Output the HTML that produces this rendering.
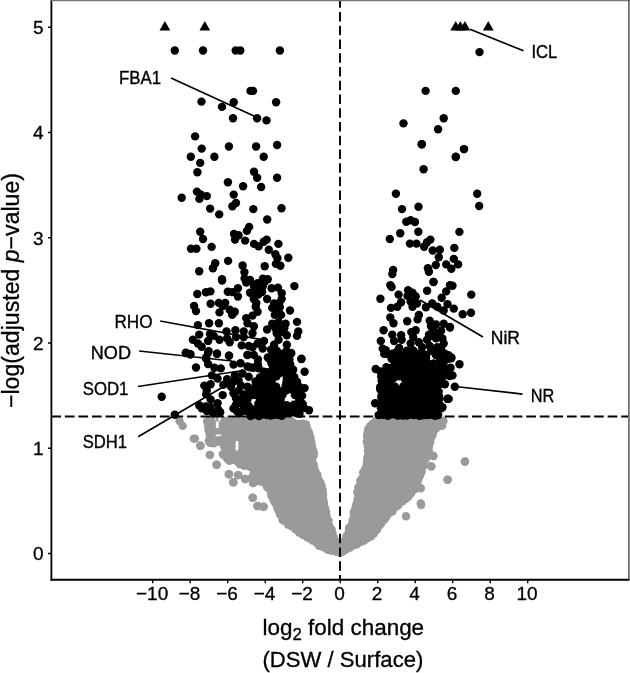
<!DOCTYPE html>
<html><head><meta charset="utf-8"><title>Volcano plot</title>
<style>html,body{margin:0;padding:0;background:#fff}body{width:630px;height:673px;overflow:hidden}</style></head>
<body>
<svg width="630" height="673" viewBox="0 0 630 673" style="display:block" font-family="'Liberation Sans', Arial, sans-serif" fill="#000">
<rect width="630" height="673" fill="#fff"/>
<path fill="#9a9a9a" fill-rule="evenodd" d="M208.0 421.5L292.0 421.5L294.0 424.5L306.0 424.5L306.6 427.0L310.6 438.3L312.2 447.0L313.8 453.4L312.0 460.0L315.4 471.7L318.5 479.6L322.5 490.0L324.0 503.0L325.0 508.0L328.4 520.5L332.5 533.0L337.8 545.0L340.1 552.5L332.0 550.8L323.5 547.2L312.5 540.6L303.0 535.0L295.5 529.2L288.0 524.5L282.5 520.0L277.0 507.0L273.5 500.0L270.0 490.0L264.0 482.5L257.0 481.0L253.5 478.0L254.0 469.0L244.0 463.0L238.0 462.0L230.0 459.0L227.0 454.0L224.0 442.5L215.0 442.0L210.0 438.0L208.5 430.0ZM215.8 415H218.6V428H215.8ZM215.6 434.6H221.2V436.2H215.6ZM235.6 441H238.4V450.5H235.6Z"/><path fill="#9a9a9a" d="M376.0 421.0L443.5 421.0L438.0 426.0L433.0 432.0L430.3 442.0L428.7 451.0L424.0 462.0L421.6 471.7L418.4 479.6L415.0 489.0L408.5 496.5L398.5 505.0L388.5 513.5L379.5 525.5L374.0 533.5L360.5 542.0L350.0 547.5L340.3 552.5L342.5 545.0L348.5 533.0L352.6 520.5L355.4 508.0L357.5 500.2L358.3 487.5L362.3 478.0L365.4 468.5L367.8 455.8L367.8 446.3L367.0 436.0L370.2 426.0Z"/>
<g fill="#9a9a9a"><circle cx="211.5" cy="421.0" r="4.2"/><circle cx="212.5" cy="441.0" r="4.2"/><circle cx="179.5" cy="421.1" r="4.2"/><circle cx="182.7" cy="425.9" r="4.2"/><circle cx="193.8" cy="438.6" r="4.2"/><circle cx="200.2" cy="445.7" r="4.2"/><circle cx="209.7" cy="454.9" r="4.2"/><circle cx="216.8" cy="464.8" r="4.2"/><circle cx="228.7" cy="474.3" r="4.2"/><circle cx="233.5" cy="482.2" r="4.2"/><circle cx="238.3" cy="475.1" r="4.2"/><circle cx="245.4" cy="479.0" r="4.2"/><circle cx="252.5" cy="476.7" r="4.2"/><circle cx="253.3" cy="483.0" r="4.2"/><circle cx="252.5" cy="497.8" r="4.2"/><circle cx="257.3" cy="506.0" r="4.2"/><circle cx="263.7" cy="506.8" r="4.2"/><circle cx="208.1" cy="421.1" r="4.2"/><circle cx="208.9" cy="427.5" r="4.2"/><circle cx="209.7" cy="433.8" r="4.2"/><circle cx="208.9" cy="441.0" r="4.2"/><circle cx="213.7" cy="443.3" r="4.2"/><circle cx="224.0" cy="442.5" r="4.2"/><circle cx="224.0" cy="455.2" r="4.2"/><circle cx="229.5" cy="460.8" r="4.2"/><circle cx="233.5" cy="457.6" r="4.2"/><circle cx="240.6" cy="464.0" r="4.2"/><circle cx="239.8" cy="456.0" r="4.2"/><circle cx="464.9" cy="461.4" r="4.2"/><circle cx="447.4" cy="479.7" r="4.2"/><circle cx="421.1" cy="505.1" r="4.2"/><circle cx="406.0" cy="516.3" r="4.2"/><circle cx="432.9" cy="455.7" r="4.2"/><circle cx="441.4" cy="425.7" r="4.2"/><circle cx="431.4" cy="466.6" r="4.2"/><circle cx="207.1" cy="421.4" r="4.2"/><circle cx="208.6" cy="428.6" r="4.2"/><circle cx="210.0" cy="435.7" r="4.2"/><circle cx="210.0" cy="442.9" r="4.2"/><circle cx="224.3" cy="445.7" r="4.2"/><circle cx="222.9" cy="454.3" r="4.2"/><circle cx="227.1" cy="458.6" r="4.2"/><circle cx="231.4" cy="457.1" r="4.2"/><circle cx="240.0" cy="464.3" r="4.2"/><circle cx="244.3" cy="465.7" r="4.2"/><circle cx="195.0" cy="438.6" r="4.2"/><circle cx="200.6" cy="445.7" r="4.2"/><circle cx="210.1" cy="454.9" r="4.2"/><circle cx="216.4" cy="464.8" r="4.2"/><circle cx="229.1" cy="474.3" r="4.2"/><circle cx="233.1" cy="482.2" r="4.2"/><circle cx="237.9" cy="475.1" r="4.2"/><circle cx="245.0" cy="479.0" r="4.2"/><circle cx="252.1" cy="477.5" r="4.2"/><circle cx="252.9" cy="483.0" r="4.2"/><circle cx="252.9" cy="497.8" r="4.2"/><circle cx="257.7" cy="506.0" r="4.2"/><circle cx="263.3" cy="506.8" r="4.2"/><circle cx="208.0" cy="421.5" r="4.2"/><circle cx="224.6" cy="420.8" r="4.2"/><circle cx="228.2" cy="421.6" r="4.2"/><circle cx="232.2" cy="421.2" r="4.2"/><circle cx="235.9" cy="421.6" r="4.2"/><circle cx="239.9" cy="421.8" r="4.2"/><circle cx="243.9" cy="421.4" r="4.2"/><circle cx="247.1" cy="421.7" r="4.2"/><circle cx="252.0" cy="421.0" r="4.2"/><circle cx="256.5" cy="422.0" r="4.2"/><circle cx="259.9" cy="420.9" r="4.2"/><circle cx="264.0" cy="420.8" r="4.2"/><circle cx="267.3" cy="421.4" r="4.2"/><circle cx="271.3" cy="421.4" r="4.2"/><circle cx="276.0" cy="420.7" r="4.2"/><circle cx="280.2" cy="420.7" r="4.2"/><circle cx="284.4" cy="422.0" r="4.2"/><circle cx="288.0" cy="420.7" r="4.2"/><circle cx="292.0" cy="421.5" r="4.2"/><circle cx="294.0" cy="424.5" r="4.2"/><circle cx="298.0" cy="424.3" r="4.2"/><circle cx="302.8" cy="423.8" r="4.2"/><circle cx="306.0" cy="424.5" r="4.2"/><circle cx="306.6" cy="427.0" r="4.2"/><circle cx="308.6" cy="431.7" r="4.2"/><circle cx="309.7" cy="435.1" r="4.2"/><circle cx="310.6" cy="438.3" r="4.2"/><circle cx="310.8" cy="443.5" r="4.2"/><circle cx="312.2" cy="447.0" r="4.2"/><circle cx="313.0" cy="451.0" r="4.2"/><circle cx="313.8" cy="453.4" r="4.2"/><circle cx="313.6" cy="456.1" r="4.2"/><circle cx="312.0" cy="460.0" r="4.2"/><circle cx="313.7" cy="464.7" r="4.2"/><circle cx="313.5" cy="467.5" r="4.2"/><circle cx="315.4" cy="471.7" r="4.2"/><circle cx="317.4" cy="475.0" r="4.2"/><circle cx="318.5" cy="479.6" r="4.2"/><circle cx="320.5" cy="482.7" r="4.2"/><circle cx="321.7" cy="485.9" r="4.2"/><circle cx="322.5" cy="490.0" r="4.2"/><circle cx="323.0" cy="495.1" r="4.2"/><circle cx="323.0" cy="498.2" r="4.2"/><circle cx="324.0" cy="503.0" r="4.2"/><circle cx="325.0" cy="508.0" r="4.2"/><circle cx="326.1" cy="511.8" r="4.2"/><circle cx="326.4" cy="515.8" r="4.2"/><circle cx="328.4" cy="520.5" r="4.2"/><circle cx="329.2" cy="525.5" r="4.2"/><circle cx="331.5" cy="529.5" r="4.2"/><circle cx="332.5" cy="533.0" r="4.2"/><circle cx="333.7" cy="537.5" r="4.2"/><circle cx="335.3" cy="541.1" r="4.2"/><circle cx="337.8" cy="545.0" r="4.2"/><circle cx="339.2" cy="548.5" r="4.2"/><circle cx="340.1" cy="552.5" r="4.2"/><circle cx="336.7" cy="551.7" r="4.2"/><circle cx="332.0" cy="550.8" r="4.2"/><circle cx="327.9" cy="549.7" r="4.2"/><circle cx="323.5" cy="547.2" r="4.2"/><circle cx="319.1" cy="545.9" r="4.2"/><circle cx="316.4" cy="542.6" r="4.2"/><circle cx="312.5" cy="540.6" r="4.2"/><circle cx="309.9" cy="538.3" r="4.2"/><circle cx="307.0" cy="537.0" r="4.2"/><circle cx="303.0" cy="535.0" r="4.2"/><circle cx="299.0" cy="532.6" r="4.2"/><circle cx="295.5" cy="529.2" r="4.2"/><circle cx="291.6" cy="526.3" r="4.2"/><circle cx="288.0" cy="524.5" r="4.2"/><circle cx="285.7" cy="521.4" r="4.2"/><circle cx="282.5" cy="520.0" r="4.2"/><circle cx="281.7" cy="516.3" r="4.2"/><circle cx="280.0" cy="514.4" r="4.2"/><circle cx="278.5" cy="510.5" r="4.2"/><circle cx="277.0" cy="507.0" r="4.2"/><circle cx="274.9" cy="502.6" r="4.2"/><circle cx="273.5" cy="500.0" r="4.2"/><circle cx="271.5" cy="496.0" r="4.2"/><circle cx="271.4" cy="493.2" r="4.2"/><circle cx="270.0" cy="490.0" r="4.2"/><circle cx="267.0" cy="487.0" r="4.2"/><circle cx="264.0" cy="482.5" r="4.2"/><circle cx="259.8" cy="481.3" r="4.2"/><circle cx="257.0" cy="481.0" r="4.2"/><circle cx="253.5" cy="478.0" r="4.2"/><circle cx="254.0" cy="472.6" r="4.2"/><circle cx="254.0" cy="469.0" r="4.2"/><circle cx="249.8" cy="466.7" r="4.2"/><circle cx="246.6" cy="464.7" r="4.2"/><circle cx="244.0" cy="463.0" r="4.2"/><circle cx="240.5" cy="462.7" r="4.2"/><circle cx="238.0" cy="462.0" r="4.2"/><circle cx="234.2" cy="460.0" r="4.2"/><circle cx="230.0" cy="459.0" r="4.2"/><circle cx="227.0" cy="454.0" r="4.2"/><circle cx="226.2" cy="450.1" r="4.2"/><circle cx="224.3" cy="447.1" r="4.2"/><circle cx="224.0" cy="442.5" r="4.2"/><circle cx="219.0" cy="441.6" r="4.2"/><circle cx="215.0" cy="442.0" r="4.2"/><circle cx="211.8" cy="440.2" r="4.2"/><circle cx="210.0" cy="438.0" r="4.2"/><circle cx="209.9" cy="434.5" r="4.2"/><circle cx="208.5" cy="430.0" r="4.2"/><circle cx="208.1" cy="425.3" r="4.2"/><circle cx="376.0" cy="421.0" r="4.2"/><circle cx="379.1" cy="421.3" r="4.2"/><circle cx="384.1" cy="420.7" r="4.2"/><circle cx="388.2" cy="420.9" r="4.2"/><circle cx="392.7" cy="421.4" r="4.2"/><circle cx="395.4" cy="421.7" r="4.2"/><circle cx="399.0" cy="421.1" r="4.2"/><circle cx="403.6" cy="420.5" r="4.2"/><circle cx="407.0" cy="421.5" r="4.2"/><circle cx="410.9" cy="421.1" r="4.2"/><circle cx="416.5" cy="420.4" r="4.2"/><circle cx="419.1" cy="421.2" r="4.2"/><circle cx="423.7" cy="421.3" r="4.2"/><circle cx="428.2" cy="420.4" r="4.2"/><circle cx="431.2" cy="420.6" r="4.2"/><circle cx="434.7" cy="421.7" r="4.2"/><circle cx="440.0" cy="421.4" r="4.2"/><circle cx="443.5" cy="421.0" r="4.2"/><circle cx="439.9" cy="424.1" r="4.2"/><circle cx="438.0" cy="426.0" r="4.2"/><circle cx="435.9" cy="428.9" r="4.2"/><circle cx="433.0" cy="432.0" r="4.2"/><circle cx="432.5" cy="435.2" r="4.2"/><circle cx="430.7" cy="438.0" r="4.2"/><circle cx="430.3" cy="442.0" r="4.2"/><circle cx="429.0" cy="445.7" r="4.2"/><circle cx="428.7" cy="451.0" r="4.2"/><circle cx="426.8" cy="455.1" r="4.2"/><circle cx="425.9" cy="459.0" r="4.2"/><circle cx="424.0" cy="462.0" r="4.2"/><circle cx="423.2" cy="466.4" r="4.2"/><circle cx="421.6" cy="471.7" r="4.2"/><circle cx="420.1" cy="475.5" r="4.2"/><circle cx="418.4" cy="479.6" r="4.2"/><circle cx="417.2" cy="484.3" r="4.2"/><circle cx="415.0" cy="489.0" r="4.2"/><circle cx="411.3" cy="493.0" r="4.2"/><circle cx="408.5" cy="496.5" r="4.2"/><circle cx="406.0" cy="498.8" r="4.2"/><circle cx="402.5" cy="501.3" r="4.2"/><circle cx="398.5" cy="505.0" r="4.2"/><circle cx="394.7" cy="507.4" r="4.2"/><circle cx="392.3" cy="511.5" r="4.2"/><circle cx="388.5" cy="513.5" r="4.2"/><circle cx="386.7" cy="516.2" r="4.2"/><circle cx="384.7" cy="519.2" r="4.2"/><circle cx="381.3" cy="523.2" r="4.2"/><circle cx="379.5" cy="525.5" r="4.2"/><circle cx="377.0" cy="529.8" r="4.2"/><circle cx="374.0" cy="533.5" r="4.2"/><circle cx="370.9" cy="536.5" r="4.2"/><circle cx="367.2" cy="538.4" r="4.2"/><circle cx="364.2" cy="540.5" r="4.2"/><circle cx="360.5" cy="542.0" r="4.2"/><circle cx="356.9" cy="544.2" r="4.2"/><circle cx="353.6" cy="545.3" r="4.2"/><circle cx="350.0" cy="547.5" r="4.2"/><circle cx="346.2" cy="549.4" r="4.2"/><circle cx="342.8" cy="551.6" r="4.2"/><circle cx="340.3" cy="552.5" r="4.2"/><circle cx="340.8" cy="547.9" r="4.2"/><circle cx="342.5" cy="545.0" r="4.2"/><circle cx="343.8" cy="541.8" r="4.2"/><circle cx="346.2" cy="536.4" r="4.2"/><circle cx="348.5" cy="533.0" r="4.2"/><circle cx="349.0" cy="528.0" r="4.2"/><circle cx="351.6" cy="524.9" r="4.2"/><circle cx="352.6" cy="520.5" r="4.2"/><circle cx="353.9" cy="516.8" r="4.2"/><circle cx="353.7" cy="512.3" r="4.2"/><circle cx="355.4" cy="508.0" r="4.2"/><circle cx="356.2" cy="504.7" r="4.2"/><circle cx="357.5" cy="500.2" r="4.2"/><circle cx="358.3" cy="496.7" r="4.2"/><circle cx="357.3" cy="492.4" r="4.2"/><circle cx="358.3" cy="487.5" r="4.2"/><circle cx="360.4" cy="485.1" r="4.2"/><circle cx="360.3" cy="480.6" r="4.2"/><circle cx="362.3" cy="478.0" r="4.2"/><circle cx="363.2" cy="472.4" r="4.2"/><circle cx="365.4" cy="468.5" r="4.2"/><circle cx="366.8" cy="464.8" r="4.2"/><circle cx="367.2" cy="460.6" r="4.2"/><circle cx="367.8" cy="455.8" r="4.2"/><circle cx="368.0" cy="450.7" r="4.2"/><circle cx="367.8" cy="446.3" r="4.2"/><circle cx="366.8" cy="442.1" r="4.2"/><circle cx="367.7" cy="438.9" r="4.2"/><circle cx="367.0" cy="436.0" r="4.2"/><circle cx="367.7" cy="432.5" r="4.2"/><circle cx="368.3" cy="428.9" r="4.2"/><circle cx="370.2" cy="426.0" r="4.2"/><circle cx="372.7" cy="423.9" r="4.2"/><circle cx="224.2" cy="421.9" r="4.2"/><circle cx="241.5" cy="422.5" r="4.2"/><circle cx="247.6" cy="422.1" r="4.2"/><circle cx="253.9" cy="422.2" r="4.2"/><circle cx="257.0" cy="422.4" r="4.2"/><circle cx="266.6" cy="421.8" r="4.2"/><circle cx="269.9" cy="422.1" r="4.2"/><circle cx="274.4" cy="422.1" r="4.2"/><circle cx="211.3" cy="424.1" r="4.2"/><circle cx="223.7" cy="424.6" r="4.2"/><circle cx="228.8" cy="425.4" r="4.2"/><circle cx="231.6" cy="424.7" r="4.2"/><circle cx="233.8" cy="425.1" r="4.2"/><circle cx="236.9" cy="424.2" r="4.2"/><circle cx="240.8" cy="423.9" r="4.2"/><circle cx="244.1" cy="425.4" r="4.2"/><circle cx="248.0" cy="424.8" r="4.2"/><circle cx="251.2" cy="424.7" r="4.2"/><circle cx="253.5" cy="425.0" r="4.2"/><circle cx="257.3" cy="425.3" r="4.2"/><circle cx="261.6" cy="424.7" r="4.2"/><circle cx="264.2" cy="425.3" r="4.2"/><circle cx="267.2" cy="424.3" r="4.2"/><circle cx="271.1" cy="425.6" r="4.2"/><circle cx="274.5" cy="425.2" r="4.2"/><circle cx="278.0" cy="425.2" r="4.2"/><circle cx="280.9" cy="424.7" r="4.2"/><circle cx="283.5" cy="425.1" r="4.2"/><circle cx="286.4" cy="424.6" r="4.2"/><circle cx="291.1" cy="425.2" r="4.2"/><circle cx="296.9" cy="424.7" r="4.2"/><circle cx="300.6" cy="424.6" r="4.2"/><circle cx="304.1" cy="425.7" r="4.2"/><circle cx="211.1" cy="428.6" r="4.2"/><circle cx="223.5" cy="427.9" r="4.2"/><circle cx="227.6" cy="428.5" r="4.2"/><circle cx="230.8" cy="427.6" r="4.2"/><circle cx="233.8" cy="428.6" r="4.2"/><circle cx="238.6" cy="428.2" r="4.2"/><circle cx="240.4" cy="428.7" r="4.2"/><circle cx="244.1" cy="427.5" r="4.2"/><circle cx="246.9" cy="428.7" r="4.2"/><circle cx="251.5" cy="428.4" r="4.2"/><circle cx="254.1" cy="428.2" r="4.2"/><circle cx="257.0" cy="429.0" r="4.2"/><circle cx="260.5" cy="428.4" r="4.2"/><circle cx="264.7" cy="428.7" r="4.2"/><circle cx="267.3" cy="427.7" r="4.2"/><circle cx="270.8" cy="427.4" r="4.2"/><circle cx="274.7" cy="427.8" r="4.2"/><circle cx="278.0" cy="427.6" r="4.2"/><circle cx="280.4" cy="427.6" r="4.2"/><circle cx="283.8" cy="427.5" r="4.2"/><circle cx="286.2" cy="428.5" r="4.2"/><circle cx="290.1" cy="427.6" r="4.2"/><circle cx="293.4" cy="428.1" r="4.2"/><circle cx="297.0" cy="428.4" r="4.2"/><circle cx="300.7" cy="427.8" r="4.2"/><circle cx="304.6" cy="428.8" r="4.2"/><circle cx="306.1" cy="428.8" r="4.2"/><circle cx="211.6" cy="432.2" r="4.2"/><circle cx="227.9" cy="430.9" r="4.2"/><circle cx="230.6" cy="430.7" r="4.2"/><circle cx="234.4" cy="430.5" r="4.2"/><circle cx="237.6" cy="430.7" r="4.2"/><circle cx="241.0" cy="431.4" r="4.2"/><circle cx="244.4" cy="432.1" r="4.2"/><circle cx="246.6" cy="432.1" r="4.2"/><circle cx="250.8" cy="431.5" r="4.2"/><circle cx="254.5" cy="432.1" r="4.2"/><circle cx="257.2" cy="431.2" r="4.2"/><circle cx="261.7" cy="430.6" r="4.2"/><circle cx="264.4" cy="431.7" r="4.2"/><circle cx="266.5" cy="431.6" r="4.2"/><circle cx="271.1" cy="432.3" r="4.2"/><circle cx="273.7" cy="432.4" r="4.2"/><circle cx="277.3" cy="431.4" r="4.2"/><circle cx="281.4" cy="430.5" r="4.2"/><circle cx="284.3" cy="431.7" r="4.2"/><circle cx="286.9" cy="432.1" r="4.2"/><circle cx="290.2" cy="431.3" r="4.2"/><circle cx="293.9" cy="431.9" r="4.2"/><circle cx="296.5" cy="431.3" r="4.2"/><circle cx="300.2" cy="431.5" r="4.2"/><circle cx="304.4" cy="431.0" r="4.2"/><circle cx="307.7" cy="431.2" r="4.2"/><circle cx="228.1" cy="434.6" r="4.2"/><circle cx="231.6" cy="433.9" r="4.2"/><circle cx="233.8" cy="433.8" r="4.2"/><circle cx="238.2" cy="435.5" r="4.2"/><circle cx="241.3" cy="434.4" r="4.2"/><circle cx="244.9" cy="435.3" r="4.2"/><circle cx="247.7" cy="434.2" r="4.2"/><circle cx="250.5" cy="434.5" r="4.2"/><circle cx="253.8" cy="434.6" r="4.2"/><circle cx="257.8" cy="435.6" r="4.2"/><circle cx="259.9" cy="434.8" r="4.2"/><circle cx="263.2" cy="433.9" r="4.2"/><circle cx="268.0" cy="434.9" r="4.2"/><circle cx="271.5" cy="434.6" r="4.2"/><circle cx="273.0" cy="434.5" r="4.2"/><circle cx="277.5" cy="435.6" r="4.2"/><circle cx="281.6" cy="434.7" r="4.2"/><circle cx="283.7" cy="433.9" r="4.2"/><circle cx="287.5" cy="434.1" r="4.2"/><circle cx="289.8" cy="433.7" r="4.2"/><circle cx="292.8" cy="435.1" r="4.2"/><circle cx="296.3" cy="435.6" r="4.2"/><circle cx="299.6" cy="435.4" r="4.2"/><circle cx="303.0" cy="433.7" r="4.2"/><circle cx="307.4" cy="434.2" r="4.2"/><circle cx="227.5" cy="438.3" r="4.2"/><circle cx="231.4" cy="437.8" r="4.2"/><circle cx="241.1" cy="437.6" r="4.2"/><circle cx="243.4" cy="438.9" r="4.2"/><circle cx="248.0" cy="438.7" r="4.2"/><circle cx="250.6" cy="438.2" r="4.2"/><circle cx="255.2" cy="438.7" r="4.2"/><circle cx="257.7" cy="437.6" r="4.2"/><circle cx="260.7" cy="438.8" r="4.2"/><circle cx="263.9" cy="438.4" r="4.2"/><circle cx="267.6" cy="438.8" r="4.2"/><circle cx="271.3" cy="437.6" r="4.2"/><circle cx="273.0" cy="437.5" r="4.2"/><circle cx="277.1" cy="438.2" r="4.2"/><circle cx="281.2" cy="438.8" r="4.2"/><circle cx="283.0" cy="438.7" r="4.2"/><circle cx="287.8" cy="438.7" r="4.2"/><circle cx="290.6" cy="437.5" r="4.2"/><circle cx="294.5" cy="438.6" r="4.2"/><circle cx="297.5" cy="438.8" r="4.2"/><circle cx="300.1" cy="437.2" r="4.2"/><circle cx="303.8" cy="438.6" r="4.2"/><circle cx="306.4" cy="438.5" r="4.2"/><circle cx="214.3" cy="441.4" r="4.2"/><circle cx="217.7" cy="441.3" r="4.2"/><circle cx="220.5" cy="440.4" r="4.2"/><circle cx="225.5" cy="441.0" r="4.2"/><circle cx="227.0" cy="441.6" r="4.2"/><circle cx="231.7" cy="440.6" r="4.2"/><circle cx="245.0" cy="441.3" r="4.2"/><circle cx="247.7" cy="440.8" r="4.2"/><circle cx="251.5" cy="441.2" r="4.2"/><circle cx="255.1" cy="441.8" r="4.2"/><circle cx="258.1" cy="442.2" r="4.2"/><circle cx="260.3" cy="440.4" r="4.2"/><circle cx="263.5" cy="440.7" r="4.2"/><circle cx="266.6" cy="440.4" r="4.2"/><circle cx="270.8" cy="442.0" r="4.2"/><circle cx="273.9" cy="442.2" r="4.2"/><circle cx="278.1" cy="440.4" r="4.2"/><circle cx="280.8" cy="441.1" r="4.2"/><circle cx="283.1" cy="442.2" r="4.2"/><circle cx="286.7" cy="441.4" r="4.2"/><circle cx="290.8" cy="442.2" r="4.2"/><circle cx="294.1" cy="441.1" r="4.2"/><circle cx="297.0" cy="440.6" r="4.2"/><circle cx="301.3" cy="442.3" r="4.2"/><circle cx="303.1" cy="440.4" r="4.2"/><circle cx="306.5" cy="441.0" r="4.2"/><circle cx="311.1" cy="442.1" r="4.2"/><circle cx="228.5" cy="445.4" r="4.2"/><circle cx="230.4" cy="444.5" r="4.2"/><circle cx="244.9" cy="444.6" r="4.2"/><circle cx="247.9" cy="443.9" r="4.2"/><circle cx="250.3" cy="443.7" r="4.2"/><circle cx="254.6" cy="444.7" r="4.2"/><circle cx="256.8" cy="445.3" r="4.2"/><circle cx="260.3" cy="444.4" r="4.2"/><circle cx="263.4" cy="444.1" r="4.2"/><circle cx="268.1" cy="444.3" r="4.2"/><circle cx="270.0" cy="444.6" r="4.2"/><circle cx="273.6" cy="445.4" r="4.2"/><circle cx="276.5" cy="445.6" r="4.2"/><circle cx="279.7" cy="445.4" r="4.2"/><circle cx="284.2" cy="444.0" r="4.2"/><circle cx="287.2" cy="444.2" r="4.2"/><circle cx="290.0" cy="444.0" r="4.2"/><circle cx="293.5" cy="445.6" r="4.2"/><circle cx="298.1" cy="445.5" r="4.2"/><circle cx="299.6" cy="444.2" r="4.2"/><circle cx="304.5" cy="443.7" r="4.2"/><circle cx="307.5" cy="444.2" r="4.2"/><circle cx="311.3" cy="443.6" r="4.2"/><circle cx="228.2" cy="447.0" r="4.2"/><circle cx="245.0" cy="447.4" r="4.2"/><circle cx="247.0" cy="448.6" r="4.2"/><circle cx="250.6" cy="447.2" r="4.2"/><circle cx="253.9" cy="448.1" r="4.2"/><circle cx="256.5" cy="447.9" r="4.2"/><circle cx="260.7" cy="447.9" r="4.2"/><circle cx="263.3" cy="448.3" r="4.2"/><circle cx="268.0" cy="448.6" r="4.2"/><circle cx="270.3" cy="448.3" r="4.2"/><circle cx="273.8" cy="448.4" r="4.2"/><circle cx="276.4" cy="448.6" r="4.2"/><circle cx="281.5" cy="447.9" r="4.2"/><circle cx="283.9" cy="448.0" r="4.2"/><circle cx="287.3" cy="446.9" r="4.2"/><circle cx="291.4" cy="447.3" r="4.2"/><circle cx="293.2" cy="447.1" r="4.2"/><circle cx="296.6" cy="448.5" r="4.2"/><circle cx="299.5" cy="447.1" r="4.2"/><circle cx="304.1" cy="447.3" r="4.2"/><circle cx="306.0" cy="448.1" r="4.2"/><circle cx="310.5" cy="447.9" r="4.2"/><circle cx="227.7" cy="452.2" r="4.2"/><circle cx="231.7" cy="452.0" r="4.2"/><circle cx="241.9" cy="452.1" r="4.2"/><circle cx="243.8" cy="451.0" r="4.2"/><circle cx="247.9" cy="450.9" r="4.2"/><circle cx="251.0" cy="450.3" r="4.2"/><circle cx="254.1" cy="451.2" r="4.2"/><circle cx="256.5" cy="450.5" r="4.2"/><circle cx="261.7" cy="451.8" r="4.2"/><circle cx="265.0" cy="451.5" r="4.2"/><circle cx="268.0" cy="452.0" r="4.2"/><circle cx="271.5" cy="450.3" r="4.2"/><circle cx="274.3" cy="450.7" r="4.2"/><circle cx="277.7" cy="450.7" r="4.2"/><circle cx="280.7" cy="452.0" r="4.2"/><circle cx="284.1" cy="450.7" r="4.2"/><circle cx="287.2" cy="451.1" r="4.2"/><circle cx="291.4" cy="450.8" r="4.2"/><circle cx="293.4" cy="451.5" r="4.2"/><circle cx="296.3" cy="451.4" r="4.2"/><circle cx="301.3" cy="451.2" r="4.2"/><circle cx="303.2" cy="451.1" r="4.2"/><circle cx="307.1" cy="450.5" r="4.2"/><circle cx="309.5" cy="450.5" r="4.2"/><circle cx="313.2" cy="451.0" r="4.2"/><circle cx="230.4" cy="453.6" r="4.2"/><circle cx="240.9" cy="455.0" r="4.2"/><circle cx="243.5" cy="454.0" r="4.2"/><circle cx="248.5" cy="455.0" r="4.2"/><circle cx="250.2" cy="454.2" r="4.2"/><circle cx="253.9" cy="454.9" r="4.2"/><circle cx="257.7" cy="455.2" r="4.2"/><circle cx="261.4" cy="454.5" r="4.2"/><circle cx="264.6" cy="455.0" r="4.2"/><circle cx="267.9" cy="454.5" r="4.2"/><circle cx="271.3" cy="454.9" r="4.2"/><circle cx="274.8" cy="453.8" r="4.2"/><circle cx="278.0" cy="453.5" r="4.2"/><circle cx="281.1" cy="454.7" r="4.2"/><circle cx="283.9" cy="455.4" r="4.2"/><circle cx="287.3" cy="454.3" r="4.2"/><circle cx="291.1" cy="455.2" r="4.2"/><circle cx="294.0" cy="454.3" r="4.2"/><circle cx="297.0" cy="454.4" r="4.2"/><circle cx="300.8" cy="454.1" r="4.2"/><circle cx="303.5" cy="454.6" r="4.2"/><circle cx="306.8" cy="454.1" r="4.2"/><circle cx="310.9" cy="455.2" r="4.2"/><circle cx="231.5" cy="457.9" r="4.2"/><circle cx="233.6" cy="457.5" r="4.2"/><circle cx="237.5" cy="457.9" r="4.2"/><circle cx="241.1" cy="458.6" r="4.2"/><circle cx="245.2" cy="457.8" r="4.2"/><circle cx="247.5" cy="458.0" r="4.2"/><circle cx="251.9" cy="457.5" r="4.2"/><circle cx="254.3" cy="458.4" r="4.2"/><circle cx="256.8" cy="457.4" r="4.2"/><circle cx="261.8" cy="458.5" r="4.2"/><circle cx="264.1" cy="457.0" r="4.2"/><circle cx="268.2" cy="458.2" r="4.2"/><circle cx="271.3" cy="458.8" r="4.2"/><circle cx="274.8" cy="457.6" r="4.2"/><circle cx="276.6" cy="457.4" r="4.2"/><circle cx="280.6" cy="457.8" r="4.2"/><circle cx="283.3" cy="457.2" r="4.2"/><circle cx="287.5" cy="458.0" r="4.2"/><circle cx="290.2" cy="458.8" r="4.2"/><circle cx="294.1" cy="456.9" r="4.2"/><circle cx="296.9" cy="458.4" r="4.2"/><circle cx="300.0" cy="458.2" r="4.2"/><circle cx="302.7" cy="457.4" r="4.2"/><circle cx="307.7" cy="458.0" r="4.2"/><circle cx="310.6" cy="457.2" r="4.2"/><circle cx="237.6" cy="461.3" r="4.2"/><circle cx="240.5" cy="460.2" r="4.2"/><circle cx="245.2" cy="461.8" r="4.2"/><circle cx="247.2" cy="461.9" r="4.2"/><circle cx="251.5" cy="460.7" r="4.2"/><circle cx="254.4" cy="462.0" r="4.2"/><circle cx="257.5" cy="462.0" r="4.2"/><circle cx="260.3" cy="460.9" r="4.2"/><circle cx="264.5" cy="460.5" r="4.2"/><circle cx="267.0" cy="461.9" r="4.2"/><circle cx="270.7" cy="461.7" r="4.2"/><circle cx="273.5" cy="460.4" r="4.2"/><circle cx="277.0" cy="460.5" r="4.2"/><circle cx="281.5" cy="460.7" r="4.2"/><circle cx="284.0" cy="460.3" r="4.2"/><circle cx="287.3" cy="460.9" r="4.2"/><circle cx="290.3" cy="460.2" r="4.2"/><circle cx="293.0" cy="461.8" r="4.2"/><circle cx="296.8" cy="460.6" r="4.2"/><circle cx="299.8" cy="460.7" r="4.2"/><circle cx="303.2" cy="460.2" r="4.2"/><circle cx="307.3" cy="460.8" r="4.2"/><circle cx="309.6" cy="461.5" r="4.2"/><circle cx="246.8" cy="464.5" r="4.2"/><circle cx="250.6" cy="464.4" r="4.2"/><circle cx="253.8" cy="463.5" r="4.2"/><circle cx="257.1" cy="463.9" r="4.2"/><circle cx="260.1" cy="464.8" r="4.2"/><circle cx="263.7" cy="464.2" r="4.2"/><circle cx="268.2" cy="464.9" r="4.2"/><circle cx="271.5" cy="465.1" r="4.2"/><circle cx="273.3" cy="464.0" r="4.2"/><circle cx="276.4" cy="464.8" r="4.2"/><circle cx="280.9" cy="464.1" r="4.2"/><circle cx="283.7" cy="464.7" r="4.2"/><circle cx="287.6" cy="463.9" r="4.2"/><circle cx="291.2" cy="464.1" r="4.2"/><circle cx="294.1" cy="463.8" r="4.2"/><circle cx="296.3" cy="465.2" r="4.2"/><circle cx="300.9" cy="464.8" r="4.2"/><circle cx="302.8" cy="463.5" r="4.2"/><circle cx="306.3" cy="463.8" r="4.2"/><circle cx="309.9" cy="464.2" r="4.2"/><circle cx="312.7" cy="464.0" r="4.2"/><circle cx="251.8" cy="467.0" r="4.2"/><circle cx="254.7" cy="466.8" r="4.2"/><circle cx="257.9" cy="468.3" r="4.2"/><circle cx="260.3" cy="467.8" r="4.2"/><circle cx="265.0" cy="468.0" r="4.2"/><circle cx="267.5" cy="467.2" r="4.2"/><circle cx="269.8" cy="467.4" r="4.2"/><circle cx="273.8" cy="467.1" r="4.2"/><circle cx="276.9" cy="467.0" r="4.2"/><circle cx="281.0" cy="468.0" r="4.2"/><circle cx="283.4" cy="467.2" r="4.2"/><circle cx="287.2" cy="467.6" r="4.2"/><circle cx="291.4" cy="467.4" r="4.2"/><circle cx="293.4" cy="468.5" r="4.2"/><circle cx="296.4" cy="467.8" r="4.2"/><circle cx="300.1" cy="468.3" r="4.2"/><circle cx="303.8" cy="468.2" r="4.2"/><circle cx="306.3" cy="468.0" r="4.2"/><circle cx="310.5" cy="467.6" r="4.2"/><circle cx="314.1" cy="468.4" r="4.2"/><circle cx="258.2" cy="471.5" r="4.2"/><circle cx="260.5" cy="470.4" r="4.2"/><circle cx="264.8" cy="470.6" r="4.2"/><circle cx="267.1" cy="471.1" r="4.2"/><circle cx="270.4" cy="471.7" r="4.2"/><circle cx="273.5" cy="470.1" r="4.2"/><circle cx="277.4" cy="471.3" r="4.2"/><circle cx="281.2" cy="471.4" r="4.2"/><circle cx="284.7" cy="471.9" r="4.2"/><circle cx="287.2" cy="471.0" r="4.2"/><circle cx="289.8" cy="470.6" r="4.2"/><circle cx="294.0" cy="470.2" r="4.2"/><circle cx="297.5" cy="470.3" r="4.2"/><circle cx="300.3" cy="471.9" r="4.2"/><circle cx="302.9" cy="470.1" r="4.2"/><circle cx="306.9" cy="470.4" r="4.2"/><circle cx="310.7" cy="470.0" r="4.2"/><circle cx="314.3" cy="471.7" r="4.2"/><circle cx="253.9" cy="474.5" r="4.2"/><circle cx="257.3" cy="474.4" r="4.2"/><circle cx="260.9" cy="474.1" r="4.2"/><circle cx="263.3" cy="473.7" r="4.2"/><circle cx="268.2" cy="474.4" r="4.2"/><circle cx="269.9" cy="475.0" r="4.2"/><circle cx="273.5" cy="473.5" r="4.2"/><circle cx="277.4" cy="473.8" r="4.2"/><circle cx="280.6" cy="474.4" r="4.2"/><circle cx="283.4" cy="474.4" r="4.2"/><circle cx="286.4" cy="474.3" r="4.2"/><circle cx="290.7" cy="473.5" r="4.2"/><circle cx="293.6" cy="473.4" r="4.2"/><circle cx="297.0" cy="475.0" r="4.2"/><circle cx="300.5" cy="474.7" r="4.2"/><circle cx="304.2" cy="473.5" r="4.2"/><circle cx="308.0" cy="474.7" r="4.2"/><circle cx="309.5" cy="475.0" r="4.2"/><circle cx="313.4" cy="473.6" r="4.2"/><circle cx="256.7" cy="478.2" r="4.2"/><circle cx="260.2" cy="477.7" r="4.2"/><circle cx="263.7" cy="478.0" r="4.2"/><circle cx="267.2" cy="476.9" r="4.2"/><circle cx="271.5" cy="477.7" r="4.2"/><circle cx="274.4" cy="478.2" r="4.2"/><circle cx="278.2" cy="476.6" r="4.2"/><circle cx="280.3" cy="476.9" r="4.2"/><circle cx="283.9" cy="478.3" r="4.2"/><circle cx="287.8" cy="476.7" r="4.2"/><circle cx="289.9" cy="478.2" r="4.2"/><circle cx="294.2" cy="477.4" r="4.2"/><circle cx="297.1" cy="476.9" r="4.2"/><circle cx="301.1" cy="477.4" r="4.2"/><circle cx="304.4" cy="477.8" r="4.2"/><circle cx="306.2" cy="477.3" r="4.2"/><circle cx="309.7" cy="478.4" r="4.2"/><circle cx="313.8" cy="476.7" r="4.2"/><circle cx="316.2" cy="477.3" r="4.2"/><circle cx="260.8" cy="480.6" r="4.2"/><circle cx="263.6" cy="480.4" r="4.2"/><circle cx="267.1" cy="480.2" r="4.2"/><circle cx="269.7" cy="481.6" r="4.2"/><circle cx="273.9" cy="480.8" r="4.2"/><circle cx="277.4" cy="480.5" r="4.2"/><circle cx="279.9" cy="480.0" r="4.2"/><circle cx="283.5" cy="480.5" r="4.2"/><circle cx="287.7" cy="481.0" r="4.2"/><circle cx="291.4" cy="480.6" r="4.2"/><circle cx="294.6" cy="481.1" r="4.2"/><circle cx="296.3" cy="480.3" r="4.2"/><circle cx="300.6" cy="481.9" r="4.2"/><circle cx="303.4" cy="481.4" r="4.2"/><circle cx="306.9" cy="481.6" r="4.2"/><circle cx="309.4" cy="480.9" r="4.2"/><circle cx="314.4" cy="480.5" r="4.2"/><circle cx="316.4" cy="479.9" r="4.2"/><circle cx="267.9" cy="483.4" r="4.2"/><circle cx="271.3" cy="484.0" r="4.2"/><circle cx="274.1" cy="484.4" r="4.2"/><circle cx="277.4" cy="484.5" r="4.2"/><circle cx="280.8" cy="483.9" r="4.2"/><circle cx="284.4" cy="483.7" r="4.2"/><circle cx="287.6" cy="484.7" r="4.2"/><circle cx="291.1" cy="483.8" r="4.2"/><circle cx="294.3" cy="485.2" r="4.2"/><circle cx="297.0" cy="483.8" r="4.2"/><circle cx="300.4" cy="485.1" r="4.2"/><circle cx="303.0" cy="483.2" r="4.2"/><circle cx="307.0" cy="484.5" r="4.2"/><circle cx="310.8" cy="483.9" r="4.2"/><circle cx="314.6" cy="483.7" r="4.2"/><circle cx="317.4" cy="483.4" r="4.2"/><circle cx="319.3" cy="483.5" r="4.2"/><circle cx="268.1" cy="487.0" r="4.2"/><circle cx="271.2" cy="488.1" r="4.2"/><circle cx="273.6" cy="487.2" r="4.2"/><circle cx="277.3" cy="488.3" r="4.2"/><circle cx="279.9" cy="487.9" r="4.2"/><circle cx="284.1" cy="487.4" r="4.2"/><circle cx="287.4" cy="488.3" r="4.2"/><circle cx="289.9" cy="488.3" r="4.2"/><circle cx="293.5" cy="488.1" r="4.2"/><circle cx="297.8" cy="486.9" r="4.2"/><circle cx="301.1" cy="488.5" r="4.2"/><circle cx="303.3" cy="486.5" r="4.2"/><circle cx="306.2" cy="488.4" r="4.2"/><circle cx="309.3" cy="488.3" r="4.2"/><circle cx="312.9" cy="488.0" r="4.2"/><circle cx="316.1" cy="486.8" r="4.2"/><circle cx="320.6" cy="486.7" r="4.2"/><circle cx="271.1" cy="491.8" r="4.2"/><circle cx="274.7" cy="491.2" r="4.2"/><circle cx="277.1" cy="490.4" r="4.2"/><circle cx="280.4" cy="491.7" r="4.2"/><circle cx="283.7" cy="490.6" r="4.2"/><circle cx="287.0" cy="490.1" r="4.2"/><circle cx="291.5" cy="489.8" r="4.2"/><circle cx="294.0" cy="491.7" r="4.2"/><circle cx="296.6" cy="491.0" r="4.2"/><circle cx="300.2" cy="490.3" r="4.2"/><circle cx="303.1" cy="490.0" r="4.2"/><circle cx="307.7" cy="491.4" r="4.2"/><circle cx="311.1" cy="489.9" r="4.2"/><circle cx="314.0" cy="490.4" r="4.2"/><circle cx="317.2" cy="490.9" r="4.2"/><circle cx="319.8" cy="491.7" r="4.2"/><circle cx="322.5" cy="491.3" r="4.2"/><circle cx="273.9" cy="493.3" r="4.2"/><circle cx="277.1" cy="495.1" r="4.2"/><circle cx="281.0" cy="494.0" r="4.2"/><circle cx="283.9" cy="494.7" r="4.2"/><circle cx="287.7" cy="493.4" r="4.2"/><circle cx="290.9" cy="493.8" r="4.2"/><circle cx="293.8" cy="493.6" r="4.2"/><circle cx="296.8" cy="493.8" r="4.2"/><circle cx="300.2" cy="493.1" r="4.2"/><circle cx="303.1" cy="494.2" r="4.2"/><circle cx="306.1" cy="493.5" r="4.2"/><circle cx="310.7" cy="493.6" r="4.2"/><circle cx="313.2" cy="493.6" r="4.2"/><circle cx="317.6" cy="493.3" r="4.2"/><circle cx="320.5" cy="494.8" r="4.2"/><circle cx="322.9" cy="493.9" r="4.2"/><circle cx="273.2" cy="498.0" r="4.2"/><circle cx="276.5" cy="496.6" r="4.2"/><circle cx="281.1" cy="497.5" r="4.2"/><circle cx="283.0" cy="497.8" r="4.2"/><circle cx="287.6" cy="497.4" r="4.2"/><circle cx="289.6" cy="497.8" r="4.2"/><circle cx="293.6" cy="497.6" r="4.2"/><circle cx="298.1" cy="498.0" r="4.2"/><circle cx="301.1" cy="496.7" r="4.2"/><circle cx="303.4" cy="497.4" r="4.2"/><circle cx="306.0" cy="498.4" r="4.2"/><circle cx="309.8" cy="496.9" r="4.2"/><circle cx="313.2" cy="496.9" r="4.2"/><circle cx="317.6" cy="497.5" r="4.2"/><circle cx="320.2" cy="497.2" r="4.2"/><circle cx="322.6" cy="497.0" r="4.2"/><circle cx="274.8" cy="500.1" r="4.2"/><circle cx="276.5" cy="499.9" r="4.2"/><circle cx="281.2" cy="501.6" r="4.2"/><circle cx="283.7" cy="501.0" r="4.2"/><circle cx="286.7" cy="501.5" r="4.2"/><circle cx="290.9" cy="500.0" r="4.2"/><circle cx="292.9" cy="501.1" r="4.2"/><circle cx="296.2" cy="501.4" r="4.2"/><circle cx="300.0" cy="500.2" r="4.2"/><circle cx="303.9" cy="500.3" r="4.2"/><circle cx="307.1" cy="500.0" r="4.2"/><circle cx="311.1" cy="500.3" r="4.2"/><circle cx="314.3" cy="500.0" r="4.2"/><circle cx="317.5" cy="501.7" r="4.2"/><circle cx="320.0" cy="499.8" r="4.2"/><circle cx="323.3" cy="501.0" r="4.2"/><circle cx="276.4" cy="504.0" r="4.2"/><circle cx="279.8" cy="504.3" r="4.2"/><circle cx="283.2" cy="504.2" r="4.2"/><circle cx="286.9" cy="503.7" r="4.2"/><circle cx="290.8" cy="503.3" r="4.2"/><circle cx="293.1" cy="504.9" r="4.2"/><circle cx="296.8" cy="504.7" r="4.2"/><circle cx="301.1" cy="504.0" r="4.2"/><circle cx="303.0" cy="503.2" r="4.2"/><circle cx="307.8" cy="503.2" r="4.2"/><circle cx="310.3" cy="504.1" r="4.2"/><circle cx="312.8" cy="503.9" r="4.2"/><circle cx="316.2" cy="504.1" r="4.2"/><circle cx="320.2" cy="503.7" r="4.2"/><circle cx="322.9" cy="503.8" r="4.2"/><circle cx="281.6" cy="507.9" r="4.2"/><circle cx="283.9" cy="507.3" r="4.2"/><circle cx="287.8" cy="508.1" r="4.2"/><circle cx="291.0" cy="507.6" r="4.2"/><circle cx="293.2" cy="507.6" r="4.2"/><circle cx="297.8" cy="507.9" r="4.2"/><circle cx="299.6" cy="507.7" r="4.2"/><circle cx="303.4" cy="506.6" r="4.2"/><circle cx="307.9" cy="507.6" r="4.2"/><circle cx="310.8" cy="506.6" r="4.2"/><circle cx="314.3" cy="508.2" r="4.2"/><circle cx="317.7" cy="507.8" r="4.2"/><circle cx="320.9" cy="507.9" r="4.2"/><circle cx="323.7" cy="507.2" r="4.2"/><circle cx="279.8" cy="511.0" r="4.2"/><circle cx="283.0" cy="511.2" r="4.2"/><circle cx="286.6" cy="510.1" r="4.2"/><circle cx="291.4" cy="510.3" r="4.2"/><circle cx="293.2" cy="511.4" r="4.2"/><circle cx="297.3" cy="511.4" r="4.2"/><circle cx="300.2" cy="510.6" r="4.2"/><circle cx="304.6" cy="510.6" r="4.2"/><circle cx="308.0" cy="510.0" r="4.2"/><circle cx="311.0" cy="509.9" r="4.2"/><circle cx="313.7" cy="509.6" r="4.2"/><circle cx="316.3" cy="511.5" r="4.2"/><circle cx="320.1" cy="511.2" r="4.2"/><circle cx="323.0" cy="510.3" r="4.2"/><circle cx="281.0" cy="514.3" r="4.2"/><circle cx="283.5" cy="513.2" r="4.2"/><circle cx="287.4" cy="514.6" r="4.2"/><circle cx="291.1" cy="513.6" r="4.2"/><circle cx="293.1" cy="513.9" r="4.2"/><circle cx="297.9" cy="513.2" r="4.2"/><circle cx="300.9" cy="513.2" r="4.2"/><circle cx="303.3" cy="513.0" r="4.2"/><circle cx="306.6" cy="513.7" r="4.2"/><circle cx="311.2" cy="514.8" r="4.2"/><circle cx="313.0" cy="513.5" r="4.2"/><circle cx="317.8" cy="513.3" r="4.2"/><circle cx="319.8" cy="513.8" r="4.2"/><circle cx="322.7" cy="513.4" r="4.2"/><circle cx="284.2" cy="518.0" r="4.2"/><circle cx="286.5" cy="516.9" r="4.2"/><circle cx="289.6" cy="517.0" r="4.2"/><circle cx="293.8" cy="517.9" r="4.2"/><circle cx="297.4" cy="517.4" r="4.2"/><circle cx="300.2" cy="517.3" r="4.2"/><circle cx="303.2" cy="517.9" r="4.2"/><circle cx="307.6" cy="517.9" r="4.2"/><circle cx="309.6" cy="517.5" r="4.2"/><circle cx="314.1" cy="517.2" r="4.2"/><circle cx="317.7" cy="518.0" r="4.2"/><circle cx="320.7" cy="517.8" r="4.2"/><circle cx="323.8" cy="518.0" r="4.2"/><circle cx="326.1" cy="517.6" r="4.2"/><circle cx="284.9" cy="521.1" r="4.2"/><circle cx="288.1" cy="520.2" r="4.2"/><circle cx="291.5" cy="519.6" r="4.2"/><circle cx="293.8" cy="519.8" r="4.2"/><circle cx="297.0" cy="520.9" r="4.2"/><circle cx="300.8" cy="520.4" r="4.2"/><circle cx="303.4" cy="519.9" r="4.2"/><circle cx="306.8" cy="520.1" r="4.2"/><circle cx="309.7" cy="521.0" r="4.2"/><circle cx="313.6" cy="520.4" r="4.2"/><circle cx="316.3" cy="520.9" r="4.2"/><circle cx="319.6" cy="520.0" r="4.2"/><circle cx="323.6" cy="520.9" r="4.2"/><circle cx="327.7" cy="521.0" r="4.2"/><circle cx="287.1" cy="522.9" r="4.2"/><circle cx="291.3" cy="523.9" r="4.2"/><circle cx="292.9" cy="523.4" r="4.2"/><circle cx="297.3" cy="524.6" r="4.2"/><circle cx="300.4" cy="524.1" r="4.2"/><circle cx="303.1" cy="523.3" r="4.2"/><circle cx="307.8" cy="523.6" r="4.2"/><circle cx="309.5" cy="524.0" r="4.2"/><circle cx="312.9" cy="523.2" r="4.2"/><circle cx="316.8" cy="524.0" r="4.2"/><circle cx="320.5" cy="524.2" r="4.2"/><circle cx="323.4" cy="522.9" r="4.2"/><circle cx="327.2" cy="522.9" r="4.2"/><circle cx="293.6" cy="526.1" r="4.2"/><circle cx="297.6" cy="526.1" r="4.2"/><circle cx="301.1" cy="527.7" r="4.2"/><circle cx="303.6" cy="526.3" r="4.2"/><circle cx="307.3" cy="526.5" r="4.2"/><circle cx="310.2" cy="526.3" r="4.2"/><circle cx="314.6" cy="527.2" r="4.2"/><circle cx="316.6" cy="526.3" r="4.2"/><circle cx="320.7" cy="527.8" r="4.2"/><circle cx="324.2" cy="526.3" r="4.2"/><circle cx="326.5" cy="526.7" r="4.2"/><circle cx="298.0" cy="529.7" r="4.2"/><circle cx="300.5" cy="530.7" r="4.2"/><circle cx="303.8" cy="531.3" r="4.2"/><circle cx="306.8" cy="531.2" r="4.2"/><circle cx="310.7" cy="531.3" r="4.2"/><circle cx="312.8" cy="529.8" r="4.2"/><circle cx="316.5" cy="531.2" r="4.2"/><circle cx="319.2" cy="529.9" r="4.2"/><circle cx="323.9" cy="531.4" r="4.2"/><circle cx="326.2" cy="530.3" r="4.2"/><circle cx="330.5" cy="530.8" r="4.2"/><circle cx="303.4" cy="534.1" r="4.2"/><circle cx="306.3" cy="534.3" r="4.2"/><circle cx="309.8" cy="533.4" r="4.2"/><circle cx="313.6" cy="532.9" r="4.2"/><circle cx="316.4" cy="534.3" r="4.2"/><circle cx="319.8" cy="533.5" r="4.2"/><circle cx="324.0" cy="533.1" r="4.2"/><circle cx="326.2" cy="533.1" r="4.2"/><circle cx="329.9" cy="533.4" r="4.2"/><circle cx="307.9" cy="537.5" r="4.2"/><circle cx="311.0" cy="536.7" r="4.2"/><circle cx="314.4" cy="536.4" r="4.2"/><circle cx="316.4" cy="537.2" r="4.2"/><circle cx="321.0" cy="536.2" r="4.2"/><circle cx="322.9" cy="536.1" r="4.2"/><circle cx="326.7" cy="536.3" r="4.2"/><circle cx="329.5" cy="537.5" r="4.2"/><circle cx="333.6" cy="537.9" r="4.2"/><circle cx="312.8" cy="539.8" r="4.2"/><circle cx="317.2" cy="540.5" r="4.2"/><circle cx="320.8" cy="541.1" r="4.2"/><circle cx="324.4" cy="539.7" r="4.2"/><circle cx="326.0" cy="541.1" r="4.2"/><circle cx="330.2" cy="539.7" r="4.2"/><circle cx="333.8" cy="539.8" r="4.2"/><circle cx="317.4" cy="543.1" r="4.2"/><circle cx="319.3" cy="542.6" r="4.2"/><circle cx="322.8" cy="544.0" r="4.2"/><circle cx="325.8" cy="543.1" r="4.2"/><circle cx="329.6" cy="544.0" r="4.2"/><circle cx="334.4" cy="542.6" r="4.2"/><circle cx="335.9" cy="544.5" r="4.2"/><circle cx="326.0" cy="546.0" r="4.2"/><circle cx="330.1" cy="546.2" r="4.2"/><circle cx="334.3" cy="547.7" r="4.2"/><circle cx="336.6" cy="546.3" r="4.2"/><circle cx="329.8" cy="549.7" r="4.2"/><circle cx="332.9" cy="550.1" r="4.2"/><circle cx="337.7" cy="549.5" r="4.2"/><circle cx="376.1" cy="421.8" r="4.2"/><circle cx="379.7" cy="421.3" r="4.2"/><circle cx="384.0" cy="421.5" r="4.2"/><circle cx="386.0" cy="421.8" r="4.2"/><circle cx="390.4" cy="422.0" r="4.2"/><circle cx="393.6" cy="421.5" r="4.2"/><circle cx="413.6" cy="421.7" r="4.2"/><circle cx="420.4" cy="421.5" r="4.2"/><circle cx="423.2" cy="421.3" r="4.2"/><circle cx="425.2" cy="421.7" r="4.2"/><circle cx="432.4" cy="421.6" r="4.2"/><circle cx="436.6" cy="421.7" r="4.2"/><circle cx="373.4" cy="423.5" r="4.2"/><circle cx="376.8" cy="425.0" r="4.2"/><circle cx="379.9" cy="424.3" r="4.2"/><circle cx="383.0" cy="425.1" r="4.2"/><circle cx="386.8" cy="423.7" r="4.2"/><circle cx="389.5" cy="424.0" r="4.2"/><circle cx="394.0" cy="424.7" r="4.2"/><circle cx="395.6" cy="425.1" r="4.2"/><circle cx="398.8" cy="424.5" r="4.2"/><circle cx="402.9" cy="424.7" r="4.2"/><circle cx="406.2" cy="423.5" r="4.2"/><circle cx="409.6" cy="424.9" r="4.2"/><circle cx="413.5" cy="424.0" r="4.2"/><circle cx="415.6" cy="424.8" r="4.2"/><circle cx="420.1" cy="423.7" r="4.2"/><circle cx="423.6" cy="425.3" r="4.2"/><circle cx="426.0" cy="424.1" r="4.2"/><circle cx="429.8" cy="425.2" r="4.2"/><circle cx="432.1" cy="423.9" r="4.2"/><circle cx="435.7" cy="424.8" r="4.2"/><circle cx="438.7" cy="424.4" r="4.2"/><circle cx="370.0" cy="428.5" r="4.2"/><circle cx="373.4" cy="426.9" r="4.2"/><circle cx="376.9" cy="428.2" r="4.2"/><circle cx="379.7" cy="427.8" r="4.2"/><circle cx="382.7" cy="427.2" r="4.2"/><circle cx="386.3" cy="427.6" r="4.2"/><circle cx="389.7" cy="426.8" r="4.2"/><circle cx="392.1" cy="427.3" r="4.2"/><circle cx="396.8" cy="428.1" r="4.2"/><circle cx="399.2" cy="427.1" r="4.2"/><circle cx="403.0" cy="427.0" r="4.2"/><circle cx="406.5" cy="428.4" r="4.2"/><circle cx="409.0" cy="427.8" r="4.2"/><circle cx="413.3" cy="428.1" r="4.2"/><circle cx="416.6" cy="428.0" r="4.2"/><circle cx="419.0" cy="428.3" r="4.2"/><circle cx="423.7" cy="426.7" r="4.2"/><circle cx="427.0" cy="427.5" r="4.2"/><circle cx="428.6" cy="426.7" r="4.2"/><circle cx="433.3" cy="428.0" r="4.2"/><circle cx="435.3" cy="427.5" r="4.2"/><circle cx="369.9" cy="430.3" r="4.2"/><circle cx="373.5" cy="430.2" r="4.2"/><circle cx="375.9" cy="430.0" r="4.2"/><circle cx="380.3" cy="431.8" r="4.2"/><circle cx="383.0" cy="430.6" r="4.2"/><circle cx="386.4" cy="430.6" r="4.2"/><circle cx="390.2" cy="430.7" r="4.2"/><circle cx="392.4" cy="431.6" r="4.2"/><circle cx="396.5" cy="429.9" r="4.2"/><circle cx="400.4" cy="431.4" r="4.2"/><circle cx="402.7" cy="431.2" r="4.2"/><circle cx="407.1" cy="430.7" r="4.2"/><circle cx="409.5" cy="430.5" r="4.2"/><circle cx="413.0" cy="431.2" r="4.2"/><circle cx="416.7" cy="431.8" r="4.2"/><circle cx="418.8" cy="430.6" r="4.2"/><circle cx="423.5" cy="431.5" r="4.2"/><circle cx="426.3" cy="431.3" r="4.2"/><circle cx="429.1" cy="431.8" r="4.2"/><circle cx="432.8" cy="430.7" r="4.2"/><circle cx="370.1" cy="433.8" r="4.2"/><circle cx="373.0" cy="434.8" r="4.2"/><circle cx="375.9" cy="434.6" r="4.2"/><circle cx="378.9" cy="433.6" r="4.2"/><circle cx="382.3" cy="434.8" r="4.2"/><circle cx="385.8" cy="433.7" r="4.2"/><circle cx="388.9" cy="433.7" r="4.2"/><circle cx="393.6" cy="434.6" r="4.2"/><circle cx="397.2" cy="435.1" r="4.2"/><circle cx="399.8" cy="435.0" r="4.2"/><circle cx="402.2" cy="435.1" r="4.2"/><circle cx="406.2" cy="433.6" r="4.2"/><circle cx="410.1" cy="434.9" r="4.2"/><circle cx="412.7" cy="433.4" r="4.2"/><circle cx="416.9" cy="434.7" r="4.2"/><circle cx="419.7" cy="435.2" r="4.2"/><circle cx="421.9" cy="433.3" r="4.2"/><circle cx="425.3" cy="433.2" r="4.2"/><circle cx="429.8" cy="434.5" r="4.2"/><circle cx="431.9" cy="433.5" r="4.2"/><circle cx="370.2" cy="437.4" r="4.2"/><circle cx="374.1" cy="437.7" r="4.2"/><circle cx="376.3" cy="437.3" r="4.2"/><circle cx="380.8" cy="438.2" r="4.2"/><circle cx="384.0" cy="437.6" r="4.2"/><circle cx="385.8" cy="436.9" r="4.2"/><circle cx="389.6" cy="437.9" r="4.2"/><circle cx="392.1" cy="438.1" r="4.2"/><circle cx="397.0" cy="437.5" r="4.2"/><circle cx="398.7" cy="438.1" r="4.2"/><circle cx="402.8" cy="437.8" r="4.2"/><circle cx="406.4" cy="438.0" r="4.2"/><circle cx="409.4" cy="438.4" r="4.2"/><circle cx="413.8" cy="438.4" r="4.2"/><circle cx="416.4" cy="437.1" r="4.2"/><circle cx="419.3" cy="437.0" r="4.2"/><circle cx="423.6" cy="438.1" r="4.2"/><circle cx="426.7" cy="438.1" r="4.2"/><circle cx="430.4" cy="437.9" r="4.2"/><circle cx="367.4" cy="440.7" r="4.2"/><circle cx="370.5" cy="440.3" r="4.2"/><circle cx="373.8" cy="441.1" r="4.2"/><circle cx="375.8" cy="440.8" r="4.2"/><circle cx="380.3" cy="440.2" r="4.2"/><circle cx="383.5" cy="440.4" r="4.2"/><circle cx="386.2" cy="441.6" r="4.2"/><circle cx="390.7" cy="441.8" r="4.2"/><circle cx="393.0" cy="440.9" r="4.2"/><circle cx="397.0" cy="441.3" r="4.2"/><circle cx="399.6" cy="441.5" r="4.2"/><circle cx="402.8" cy="441.7" r="4.2"/><circle cx="406.2" cy="440.0" r="4.2"/><circle cx="410.1" cy="440.1" r="4.2"/><circle cx="413.3" cy="439.9" r="4.2"/><circle cx="417.2" cy="440.9" r="4.2"/><circle cx="420.0" cy="440.1" r="4.2"/><circle cx="423.1" cy="440.6" r="4.2"/><circle cx="425.6" cy="441.4" r="4.2"/><circle cx="428.5" cy="440.8" r="4.2"/><circle cx="370.9" cy="444.6" r="4.2"/><circle cx="373.6" cy="444.2" r="4.2"/><circle cx="377.3" cy="444.0" r="4.2"/><circle cx="379.1" cy="444.9" r="4.2"/><circle cx="383.8" cy="444.5" r="4.2"/><circle cx="387.0" cy="443.6" r="4.2"/><circle cx="389.7" cy="444.7" r="4.2"/><circle cx="394.0" cy="444.9" r="4.2"/><circle cx="395.7" cy="444.5" r="4.2"/><circle cx="399.8" cy="443.9" r="4.2"/><circle cx="402.3" cy="443.4" r="4.2"/><circle cx="406.2" cy="444.1" r="4.2"/><circle cx="409.1" cy="443.8" r="4.2"/><circle cx="413.0" cy="444.6" r="4.2"/><circle cx="416.4" cy="443.4" r="4.2"/><circle cx="420.3" cy="443.8" r="4.2"/><circle cx="423.7" cy="445.1" r="4.2"/><circle cx="425.4" cy="444.3" r="4.2"/><circle cx="370.0" cy="446.6" r="4.2"/><circle cx="374.0" cy="447.7" r="4.2"/><circle cx="377.0" cy="448.3" r="4.2"/><circle cx="380.9" cy="447.8" r="4.2"/><circle cx="383.6" cy="446.4" r="4.2"/><circle cx="385.6" cy="447.3" r="4.2"/><circle cx="390.7" cy="447.0" r="4.2"/><circle cx="393.2" cy="446.4" r="4.2"/><circle cx="396.2" cy="448.2" r="4.2"/><circle cx="399.9" cy="448.0" r="4.2"/><circle cx="402.0" cy="446.8" r="4.2"/><circle cx="405.7" cy="448.1" r="4.2"/><circle cx="408.8" cy="448.3" r="4.2"/><circle cx="412.4" cy="448.2" r="4.2"/><circle cx="416.2" cy="447.0" r="4.2"/><circle cx="420.4" cy="447.2" r="4.2"/><circle cx="423.2" cy="446.5" r="4.2"/><circle cx="426.8" cy="448.4" r="4.2"/><circle cx="428.6" cy="447.9" r="4.2"/><circle cx="369.0" cy="449.8" r="4.2"/><circle cx="373.1" cy="450.2" r="4.2"/><circle cx="377.1" cy="450.2" r="4.2"/><circle cx="380.5" cy="450.2" r="4.2"/><circle cx="382.4" cy="450.7" r="4.2"/><circle cx="386.3" cy="450.4" r="4.2"/><circle cx="390.3" cy="450.1" r="4.2"/><circle cx="393.4" cy="451.4" r="4.2"/><circle cx="396.3" cy="450.7" r="4.2"/><circle cx="400.5" cy="450.9" r="4.2"/><circle cx="402.4" cy="449.8" r="4.2"/><circle cx="405.5" cy="450.4" r="4.2"/><circle cx="408.8" cy="451.0" r="4.2"/><circle cx="412.7" cy="450.3" r="4.2"/><circle cx="416.2" cy="451.6" r="4.2"/><circle cx="419.0" cy="450.0" r="4.2"/><circle cx="422.4" cy="450.3" r="4.2"/><circle cx="426.9" cy="451.1" r="4.2"/><circle cx="369.7" cy="453.5" r="4.2"/><circle cx="373.6" cy="453.4" r="4.2"/><circle cx="376.4" cy="454.4" r="4.2"/><circle cx="379.8" cy="453.3" r="4.2"/><circle cx="382.3" cy="454.1" r="4.2"/><circle cx="387.5" cy="454.8" r="4.2"/><circle cx="389.0" cy="454.0" r="4.2"/><circle cx="393.1" cy="453.4" r="4.2"/><circle cx="396.7" cy="454.0" r="4.2"/><circle cx="400.3" cy="453.6" r="4.2"/><circle cx="403.9" cy="454.6" r="4.2"/><circle cx="406.2" cy="453.3" r="4.2"/><circle cx="409.6" cy="453.3" r="4.2"/><circle cx="413.3" cy="454.4" r="4.2"/><circle cx="416.4" cy="455.0" r="4.2"/><circle cx="418.6" cy="454.4" r="4.2"/><circle cx="423.4" cy="453.2" r="4.2"/><circle cx="425.7" cy="453.1" r="4.2"/><circle cx="367.5" cy="457.9" r="4.2"/><circle cx="370.7" cy="457.5" r="4.2"/><circle cx="374.2" cy="457.6" r="4.2"/><circle cx="377.5" cy="457.4" r="4.2"/><circle cx="379.3" cy="457.3" r="4.2"/><circle cx="383.2" cy="457.0" r="4.2"/><circle cx="386.2" cy="457.3" r="4.2"/><circle cx="390.0" cy="456.7" r="4.2"/><circle cx="392.7" cy="457.3" r="4.2"/><circle cx="396.4" cy="457.1" r="4.2"/><circle cx="400.0" cy="456.7" r="4.2"/><circle cx="403.1" cy="456.9" r="4.2"/><circle cx="406.8" cy="457.7" r="4.2"/><circle cx="410.2" cy="457.3" r="4.2"/><circle cx="412.4" cy="458.2" r="4.2"/><circle cx="416.2" cy="457.1" r="4.2"/><circle cx="419.1" cy="457.1" r="4.2"/><circle cx="423.2" cy="457.9" r="4.2"/><circle cx="367.3" cy="461.1" r="4.2"/><circle cx="370.0" cy="460.3" r="4.2"/><circle cx="372.8" cy="460.6" r="4.2"/><circle cx="377.0" cy="461.4" r="4.2"/><circle cx="380.6" cy="461.3" r="4.2"/><circle cx="383.1" cy="460.4" r="4.2"/><circle cx="386.1" cy="461.5" r="4.2"/><circle cx="389.2" cy="459.9" r="4.2"/><circle cx="392.7" cy="461.4" r="4.2"/><circle cx="397.1" cy="460.3" r="4.2"/><circle cx="400.4" cy="461.4" r="4.2"/><circle cx="402.9" cy="460.0" r="4.2"/><circle cx="406.8" cy="460.3" r="4.2"/><circle cx="408.8" cy="461.4" r="4.2"/><circle cx="412.8" cy="460.4" r="4.2"/><circle cx="416.4" cy="460.1" r="4.2"/><circle cx="418.5" cy="460.4" r="4.2"/><circle cx="422.6" cy="459.6" r="4.2"/><circle cx="369.5" cy="464.6" r="4.2"/><circle cx="372.8" cy="464.1" r="4.2"/><circle cx="376.4" cy="463.0" r="4.2"/><circle cx="380.5" cy="464.5" r="4.2"/><circle cx="382.7" cy="464.5" r="4.2"/><circle cx="386.5" cy="464.9" r="4.2"/><circle cx="388.9" cy="463.7" r="4.2"/><circle cx="392.6" cy="464.1" r="4.2"/><circle cx="397.0" cy="464.6" r="4.2"/><circle cx="399.8" cy="463.7" r="4.2"/><circle cx="403.6" cy="463.1" r="4.2"/><circle cx="405.8" cy="464.4" r="4.2"/><circle cx="409.5" cy="464.9" r="4.2"/><circle cx="412.1" cy="463.8" r="4.2"/><circle cx="415.6" cy="462.9" r="4.2"/><circle cx="418.7" cy="463.1" r="4.2"/><circle cx="422.5" cy="463.8" r="4.2"/><circle cx="367.6" cy="466.9" r="4.2"/><circle cx="369.8" cy="466.5" r="4.2"/><circle cx="373.6" cy="467.5" r="4.2"/><circle cx="376.5" cy="467.0" r="4.2"/><circle cx="379.4" cy="467.8" r="4.2"/><circle cx="383.1" cy="467.9" r="4.2"/><circle cx="386.2" cy="467.7" r="4.2"/><circle cx="388.9" cy="466.6" r="4.2"/><circle cx="394.0" cy="467.6" r="4.2"/><circle cx="396.8" cy="467.2" r="4.2"/><circle cx="399.6" cy="466.6" r="4.2"/><circle cx="402.3" cy="467.5" r="4.2"/><circle cx="406.7" cy="466.7" r="4.2"/><circle cx="409.9" cy="466.5" r="4.2"/><circle cx="413.1" cy="466.5" r="4.2"/><circle cx="416.2" cy="466.8" r="4.2"/><circle cx="419.6" cy="466.5" r="4.2"/><circle cx="365.7" cy="471.3" r="4.2"/><circle cx="369.9" cy="471.2" r="4.2"/><circle cx="373.7" cy="470.6" r="4.2"/><circle cx="377.3" cy="469.9" r="4.2"/><circle cx="380.7" cy="470.2" r="4.2"/><circle cx="382.3" cy="470.2" r="4.2"/><circle cx="385.6" cy="469.6" r="4.2"/><circle cx="390.0" cy="469.7" r="4.2"/><circle cx="392.4" cy="470.1" r="4.2"/><circle cx="396.0" cy="471.3" r="4.2"/><circle cx="400.5" cy="471.2" r="4.2"/><circle cx="404.0" cy="470.4" r="4.2"/><circle cx="406.9" cy="470.1" r="4.2"/><circle cx="410.5" cy="471.1" r="4.2"/><circle cx="413.4" cy="470.0" r="4.2"/><circle cx="415.4" cy="471.4" r="4.2"/><circle cx="419.6" cy="470.7" r="4.2"/><circle cx="366.7" cy="473.1" r="4.2"/><circle cx="370.8" cy="473.7" r="4.2"/><circle cx="373.3" cy="474.4" r="4.2"/><circle cx="376.0" cy="474.2" r="4.2"/><circle cx="379.6" cy="474.4" r="4.2"/><circle cx="382.4" cy="473.4" r="4.2"/><circle cx="386.8" cy="473.8" r="4.2"/><circle cx="389.6" cy="474.0" r="4.2"/><circle cx="392.5" cy="473.7" r="4.2"/><circle cx="395.4" cy="474.4" r="4.2"/><circle cx="399.2" cy="474.5" r="4.2"/><circle cx="403.1" cy="474.0" r="4.2"/><circle cx="406.6" cy="473.1" r="4.2"/><circle cx="410.2" cy="473.4" r="4.2"/><circle cx="413.6" cy="474.4" r="4.2"/><circle cx="416.6" cy="474.4" r="4.2"/><circle cx="419.4" cy="474.1" r="4.2"/><circle cx="363.9" cy="476.6" r="4.2"/><circle cx="366.8" cy="477.4" r="4.2"/><circle cx="369.7" cy="477.1" r="4.2"/><circle cx="372.4" cy="477.4" r="4.2"/><circle cx="377.0" cy="476.4" r="4.2"/><circle cx="380.0" cy="477.6" r="4.2"/><circle cx="382.4" cy="477.8" r="4.2"/><circle cx="387.2" cy="476.2" r="4.2"/><circle cx="389.3" cy="476.3" r="4.2"/><circle cx="392.6" cy="476.3" r="4.2"/><circle cx="396.4" cy="476.6" r="4.2"/><circle cx="399.3" cy="477.0" r="4.2"/><circle cx="402.7" cy="477.7" r="4.2"/><circle cx="406.7" cy="476.3" r="4.2"/><circle cx="409.0" cy="476.1" r="4.2"/><circle cx="412.6" cy="476.3" r="4.2"/><circle cx="416.6" cy="477.7" r="4.2"/><circle cx="364.4" cy="479.4" r="4.2"/><circle cx="367.0" cy="480.7" r="4.2"/><circle cx="370.7" cy="480.3" r="4.2"/><circle cx="372.6" cy="480.0" r="4.2"/><circle cx="377.0" cy="480.9" r="4.2"/><circle cx="379.3" cy="480.7" r="4.2"/><circle cx="383.5" cy="480.7" r="4.2"/><circle cx="385.5" cy="480.3" r="4.2"/><circle cx="389.4" cy="480.6" r="4.2"/><circle cx="392.8" cy="479.7" r="4.2"/><circle cx="396.7" cy="480.0" r="4.2"/><circle cx="400.3" cy="480.0" r="4.2"/><circle cx="403.1" cy="481.0" r="4.2"/><circle cx="405.5" cy="480.9" r="4.2"/><circle cx="408.7" cy="481.3" r="4.2"/><circle cx="412.0" cy="480.8" r="4.2"/><circle cx="415.9" cy="479.8" r="4.2"/><circle cx="361.0" cy="484.5" r="4.2"/><circle cx="362.9" cy="483.8" r="4.2"/><circle cx="366.5" cy="482.8" r="4.2"/><circle cx="369.9" cy="484.5" r="4.2"/><circle cx="372.9" cy="483.9" r="4.2"/><circle cx="377.0" cy="482.8" r="4.2"/><circle cx="380.7" cy="482.9" r="4.2"/><circle cx="382.8" cy="484.1" r="4.2"/><circle cx="385.5" cy="483.5" r="4.2"/><circle cx="389.1" cy="483.6" r="4.2"/><circle cx="392.1" cy="483.0" r="4.2"/><circle cx="395.8" cy="482.9" r="4.2"/><circle cx="398.9" cy="483.1" r="4.2"/><circle cx="403.0" cy="483.0" r="4.2"/><circle cx="406.9" cy="483.5" r="4.2"/><circle cx="409.1" cy="483.2" r="4.2"/><circle cx="413.6" cy="482.8" r="4.2"/><circle cx="416.7" cy="482.9" r="4.2"/><circle cx="360.9" cy="486.5" r="4.2"/><circle cx="364.4" cy="487.8" r="4.2"/><circle cx="367.7" cy="487.9" r="4.2"/><circle cx="369.5" cy="487.6" r="4.2"/><circle cx="373.5" cy="486.4" r="4.2"/><circle cx="377.6" cy="487.3" r="4.2"/><circle cx="380.5" cy="487.1" r="4.2"/><circle cx="382.4" cy="487.7" r="4.2"/><circle cx="385.9" cy="486.5" r="4.2"/><circle cx="390.0" cy="486.4" r="4.2"/><circle cx="393.0" cy="487.4" r="4.2"/><circle cx="395.6" cy="487.3" r="4.2"/><circle cx="398.9" cy="487.0" r="4.2"/><circle cx="403.3" cy="487.4" r="4.2"/><circle cx="405.4" cy="486.4" r="4.2"/><circle cx="410.5" cy="486.8" r="4.2"/><circle cx="412.7" cy="486.7" r="4.2"/><circle cx="360.2" cy="489.7" r="4.2"/><circle cx="363.1" cy="489.5" r="4.2"/><circle cx="366.0" cy="490.7" r="4.2"/><circle cx="369.4" cy="491.0" r="4.2"/><circle cx="373.0" cy="491.0" r="4.2"/><circle cx="376.2" cy="489.8" r="4.2"/><circle cx="379.7" cy="489.3" r="4.2"/><circle cx="383.1" cy="490.1" r="4.2"/><circle cx="385.5" cy="491.0" r="4.2"/><circle cx="389.6" cy="489.3" r="4.2"/><circle cx="394.0" cy="489.8" r="4.2"/><circle cx="395.9" cy="489.3" r="4.2"/><circle cx="398.9" cy="490.7" r="4.2"/><circle cx="403.2" cy="490.3" r="4.2"/><circle cx="405.8" cy="489.9" r="4.2"/><circle cx="410.5" cy="490.0" r="4.2"/><circle cx="361.0" cy="494.2" r="4.2"/><circle cx="363.3" cy="493.5" r="4.2"/><circle cx="367.2" cy="493.2" r="4.2"/><circle cx="369.2" cy="493.8" r="4.2"/><circle cx="373.9" cy="493.1" r="4.2"/><circle cx="377.0" cy="494.4" r="4.2"/><circle cx="379.2" cy="492.9" r="4.2"/><circle cx="383.2" cy="493.3" r="4.2"/><circle cx="387.4" cy="494.6" r="4.2"/><circle cx="389.7" cy="494.2" r="4.2"/><circle cx="393.4" cy="492.9" r="4.2"/><circle cx="397.3" cy="492.9" r="4.2"/><circle cx="398.9" cy="493.5" r="4.2"/><circle cx="402.0" cy="493.6" r="4.2"/><circle cx="406.1" cy="494.5" r="4.2"/><circle cx="409.4" cy="494.3" r="4.2"/><circle cx="359.3" cy="497.4" r="4.2"/><circle cx="364.0" cy="497.1" r="4.2"/><circle cx="365.9" cy="497.1" r="4.2"/><circle cx="370.7" cy="497.9" r="4.2"/><circle cx="373.8" cy="496.0" r="4.2"/><circle cx="377.4" cy="497.2" r="4.2"/><circle cx="379.5" cy="497.7" r="4.2"/><circle cx="383.9" cy="497.7" r="4.2"/><circle cx="386.0" cy="497.1" r="4.2"/><circle cx="389.6" cy="496.5" r="4.2"/><circle cx="393.6" cy="497.1" r="4.2"/><circle cx="396.1" cy="497.0" r="4.2"/><circle cx="400.6" cy="497.0" r="4.2"/><circle cx="403.8" cy="497.0" r="4.2"/><circle cx="407.3" cy="496.0" r="4.2"/><circle cx="359.4" cy="500.3" r="4.2"/><circle cx="363.9" cy="501.1" r="4.2"/><circle cx="365.7" cy="499.7" r="4.2"/><circle cx="370.0" cy="501.1" r="4.2"/><circle cx="372.6" cy="500.9" r="4.2"/><circle cx="376.4" cy="500.3" r="4.2"/><circle cx="380.8" cy="499.3" r="4.2"/><circle cx="382.9" cy="499.5" r="4.2"/><circle cx="385.8" cy="499.8" r="4.2"/><circle cx="390.2" cy="500.4" r="4.2"/><circle cx="392.3" cy="500.8" r="4.2"/><circle cx="396.4" cy="499.5" r="4.2"/><circle cx="400.3" cy="500.8" r="4.2"/><circle cx="402.4" cy="501.1" r="4.2"/><circle cx="357.3" cy="503.4" r="4.2"/><circle cx="360.7" cy="502.8" r="4.2"/><circle cx="362.6" cy="503.2" r="4.2"/><circle cx="367.5" cy="502.8" r="4.2"/><circle cx="369.1" cy="504.0" r="4.2"/><circle cx="372.5" cy="503.8" r="4.2"/><circle cx="375.8" cy="503.0" r="4.2"/><circle cx="380.2" cy="504.2" r="4.2"/><circle cx="383.0" cy="503.4" r="4.2"/><circle cx="385.6" cy="503.2" r="4.2"/><circle cx="389.3" cy="504.1" r="4.2"/><circle cx="393.5" cy="504.1" r="4.2"/><circle cx="396.5" cy="503.9" r="4.2"/><circle cx="399.0" cy="503.3" r="4.2"/><circle cx="356.7" cy="506.7" r="4.2"/><circle cx="360.9" cy="507.6" r="4.2"/><circle cx="364.3" cy="506.8" r="4.2"/><circle cx="367.6" cy="506.1" r="4.2"/><circle cx="370.8" cy="507.1" r="4.2"/><circle cx="374.0" cy="506.6" r="4.2"/><circle cx="377.6" cy="505.9" r="4.2"/><circle cx="380.6" cy="507.4" r="4.2"/><circle cx="382.9" cy="507.5" r="4.2"/><circle cx="385.9" cy="507.3" r="4.2"/><circle cx="389.7" cy="506.6" r="4.2"/><circle cx="392.5" cy="507.4" r="4.2"/><circle cx="396.9" cy="506.0" r="4.2"/><circle cx="356.9" cy="510.2" r="4.2"/><circle cx="359.2" cy="509.2" r="4.2"/><circle cx="363.7" cy="510.5" r="4.2"/><circle cx="366.5" cy="510.9" r="4.2"/><circle cx="370.6" cy="509.7" r="4.2"/><circle cx="372.4" cy="510.2" r="4.2"/><circle cx="376.9" cy="509.5" r="4.2"/><circle cx="379.0" cy="510.1" r="4.2"/><circle cx="382.3" cy="510.6" r="4.2"/><circle cx="386.8" cy="509.7" r="4.2"/><circle cx="389.7" cy="509.6" r="4.2"/><circle cx="392.5" cy="509.5" r="4.2"/><circle cx="357.3" cy="513.0" r="4.2"/><circle cx="359.5" cy="514.0" r="4.2"/><circle cx="363.5" cy="513.9" r="4.2"/><circle cx="366.7" cy="512.5" r="4.2"/><circle cx="370.5" cy="512.8" r="4.2"/><circle cx="373.2" cy="512.4" r="4.2"/><circle cx="376.1" cy="513.7" r="4.2"/><circle cx="380.4" cy="513.7" r="4.2"/><circle cx="383.1" cy="513.9" r="4.2"/><circle cx="386.8" cy="512.8" r="4.2"/><circle cx="356.2" cy="516.2" r="4.2"/><circle cx="360.3" cy="516.6" r="4.2"/><circle cx="363.0" cy="516.8" r="4.2"/><circle cx="367.2" cy="517.1" r="4.2"/><circle cx="369.7" cy="517.5" r="4.2"/><circle cx="373.9" cy="516.8" r="4.2"/><circle cx="376.6" cy="516.4" r="4.2"/><circle cx="379.2" cy="517.5" r="4.2"/><circle cx="383.4" cy="515.9" r="4.2"/><circle cx="353.7" cy="519.2" r="4.2"/><circle cx="357.7" cy="519.2" r="4.2"/><circle cx="360.7" cy="520.4" r="4.2"/><circle cx="363.0" cy="520.4" r="4.2"/><circle cx="366.5" cy="520.5" r="4.2"/><circle cx="369.1" cy="520.9" r="4.2"/><circle cx="373.1" cy="520.6" r="4.2"/><circle cx="376.5" cy="520.6" r="4.2"/><circle cx="379.5" cy="520.1" r="4.2"/><circle cx="382.3" cy="520.0" r="4.2"/><circle cx="352.8" cy="523.3" r="4.2"/><circle cx="357.4" cy="522.6" r="4.2"/><circle cx="360.9" cy="523.1" r="4.2"/><circle cx="362.9" cy="522.8" r="4.2"/><circle cx="366.6" cy="523.6" r="4.2"/><circle cx="370.1" cy="524.1" r="4.2"/><circle cx="373.3" cy="523.3" r="4.2"/><circle cx="377.6" cy="522.7" r="4.2"/><circle cx="378.9" cy="523.0" r="4.2"/><circle cx="354.4" cy="525.8" r="4.2"/><circle cx="355.8" cy="527.0" r="4.2"/><circle cx="359.9" cy="526.5" r="4.2"/><circle cx="363.6" cy="526.3" r="4.2"/><circle cx="366.2" cy="525.6" r="4.2"/><circle cx="370.7" cy="527.5" r="4.2"/><circle cx="372.9" cy="526.5" r="4.2"/><circle cx="376.2" cy="525.7" r="4.2"/><circle cx="350.4" cy="529.1" r="4.2"/><circle cx="353.3" cy="530.1" r="4.2"/><circle cx="357.1" cy="529.6" r="4.2"/><circle cx="359.2" cy="529.1" r="4.2"/><circle cx="363.5" cy="529.2" r="4.2"/><circle cx="366.3" cy="530.1" r="4.2"/><circle cx="370.8" cy="529.9" r="4.2"/><circle cx="372.8" cy="530.1" r="4.2"/><circle cx="349.8" cy="532.9" r="4.2"/><circle cx="354.1" cy="533.8" r="4.2"/><circle cx="357.2" cy="534.0" r="4.2"/><circle cx="360.4" cy="532.4" r="4.2"/><circle cx="362.5" cy="532.5" r="4.2"/><circle cx="366.2" cy="533.3" r="4.2"/><circle cx="370.6" cy="533.4" r="4.2"/><circle cx="373.2" cy="532.7" r="4.2"/><circle cx="349.5" cy="536.7" r="4.2"/><circle cx="354.1" cy="535.8" r="4.2"/><circle cx="356.4" cy="537.2" r="4.2"/><circle cx="360.5" cy="535.7" r="4.2"/><circle cx="363.8" cy="537.1" r="4.2"/><circle cx="366.5" cy="535.8" r="4.2"/><circle cx="347.6" cy="540.3" r="4.2"/><circle cx="350.3" cy="539.5" r="4.2"/><circle cx="353.0" cy="540.6" r="4.2"/><circle cx="357.4" cy="539.4" r="4.2"/><circle cx="359.3" cy="539.2" r="4.2"/><circle cx="364.3" cy="538.9" r="4.2"/><circle cx="343.3" cy="543.5" r="4.2"/><circle cx="347.5" cy="542.8" r="4.2"/><circle cx="351.2" cy="543.4" r="4.2"/><circle cx="352.6" cy="542.3" r="4.2"/><circle cx="356.0" cy="543.2" r="4.2"/><circle cx="342.6" cy="546.1" r="4.2"/><circle cx="346.6" cy="546.6" r="4.2"/><circle cx="349.4" cy="547.1" r="4.2"/><circle cx="344.3" cy="549.5" r="4.2"/><circle cx="442.2" cy="425.6" r="4.2"/><circle cx="433.5" cy="456.1" r="4.2"/><circle cx="431.1" cy="466.1" r="4.2"/><circle cx="420.8" cy="488.3" r="4.2"/><circle cx="420.8" cy="503.4" r="4.2"/><circle cx="447.8" cy="479.6" r="4.2"/><circle cx="464.9" cy="461.7" r="4.2"/></g>
<g stroke="#000" stroke-width="1.9" fill="none"><path d="M51.3 416.5H628" stroke-dasharray="9.7 3.87"/><path d="M340 -1.63V579" stroke-dasharray="9.5 4.23"/></g>
<g fill="#000"><circle cx="174.8" cy="50.5" r="4.2"/><circle cx="203.0" cy="50.5" r="4.2"/><circle cx="235.7" cy="50.5" r="4.2"/><circle cx="240.3" cy="50.5" r="4.2"/><circle cx="279.9" cy="50.5" r="4.2"/><circle cx="250.5" cy="90.9" r="4.2"/><circle cx="253.0" cy="90.9" r="4.2"/><circle cx="201.5" cy="101.6" r="4.2"/><circle cx="233.7" cy="102.3" r="4.2"/><circle cx="276.1" cy="102.3" r="4.2"/><circle cx="222.0" cy="106.9" r="4.2"/><circle cx="233.0" cy="118.3" r="4.2"/><circle cx="257.1" cy="118.3" r="4.2"/><circle cx="266.5" cy="120.4" r="4.2"/><circle cx="195.1" cy="136.4" r="4.2"/><circle cx="201.7" cy="148.6" r="4.2"/><circle cx="228.9" cy="146.5" r="4.2"/><circle cx="256.1" cy="146.5" r="4.2"/><circle cx="277.1" cy="145.0" r="4.2"/><circle cx="190.8" cy="156.7" r="4.2"/><circle cx="214.4" cy="156.7" r="4.2"/><circle cx="263.7" cy="156.7" r="4.2"/><circle cx="200.2" cy="162.9" r="4.2"/><circle cx="197.4" cy="172.3" r="4.2"/><circle cx="254.0" cy="171.7" r="4.2"/><circle cx="257.1" cy="177.8" r="4.2"/><circle cx="277.1" cy="177.8" r="4.2"/><circle cx="227.9" cy="182.2" r="4.2"/><circle cx="243.1" cy="186.2" r="4.2"/><circle cx="261.1" cy="187.0" r="4.2"/><circle cx="181.7" cy="197.7" r="4.2"/><circle cx="196.9" cy="191.6" r="4.2"/><circle cx="201.0" cy="194.6" r="4.2"/><circle cx="199.4" cy="198.9" r="4.2"/><circle cx="206.8" cy="196.1" r="4.2"/><circle cx="233.7" cy="194.6" r="4.2"/><circle cx="236.0" cy="203.0" r="4.2"/><circle cx="232.4" cy="206.3" r="4.2"/><circle cx="210.1" cy="208.6" r="4.2"/><circle cx="219.2" cy="214.4" r="4.2"/><circle cx="253.3" cy="209.1" r="4.2"/><circle cx="281.5" cy="208.3" r="4.2"/><circle cx="267.2" cy="219.5" r="4.2"/><circle cx="200.2" cy="231.7" r="4.2"/><circle cx="203.0" cy="239.0" r="4.2"/><circle cx="249.2" cy="226.9" r="4.2"/><circle cx="246.9" cy="230.9" r="4.2"/><circle cx="234.0" cy="234.0" r="4.2"/><circle cx="238.5" cy="235.2" r="4.2"/><circle cx="235.0" cy="239.6" r="4.2"/><circle cx="245.1" cy="240.6" r="4.2"/><circle cx="266.7" cy="239.6" r="4.2"/><circle cx="263.7" cy="241.8" r="4.2"/><circle cx="254.0" cy="243.9" r="4.2"/><circle cx="258.6" cy="246.4" r="4.2"/><circle cx="278.4" cy="243.9" r="4.2"/><circle cx="191.0" cy="248.7" r="4.2"/><circle cx="196.4" cy="248.7" r="4.2"/><circle cx="211.6" cy="246.9" r="4.2"/><circle cx="268.8" cy="249.7" r="4.2"/><circle cx="275.4" cy="254.3" r="4.2"/><circle cx="277.4" cy="258.3" r="4.2"/><circle cx="288.3" cy="257.8" r="4.2"/><circle cx="228.1" cy="260.9" r="4.2"/><circle cx="215.2" cy="263.2" r="4.2"/><circle cx="212.9" cy="268.3" r="4.2"/><circle cx="242.6" cy="265.5" r="4.2"/><circle cx="264.7" cy="266.2" r="4.2"/><circle cx="275.9" cy="263.9" r="4.2"/><circle cx="280.4" cy="265.7" r="4.2"/><circle cx="199.2" cy="271.3" r="4.2"/><circle cx="244.4" cy="272.1" r="4.2"/><circle cx="222.0" cy="279.2" r="4.2"/><circle cx="244.6" cy="278.4" r="4.2"/><circle cx="262.9" cy="278.7" r="4.2"/><circle cx="267.7" cy="279.2" r="4.2"/><circle cx="222.1" cy="280.6" r="4.2"/><circle cx="246.2" cy="282.5" r="4.2"/><circle cx="250.0" cy="280.0" r="4.2"/><circle cx="197.3" cy="294.0" r="4.2"/><circle cx="205.9" cy="292.3" r="4.2"/><circle cx="210.4" cy="291.4" r="4.2"/><circle cx="227.8" cy="291.8" r="4.2"/><circle cx="232.2" cy="292.1" r="4.2"/><circle cx="237.9" cy="288.3" r="4.2"/><circle cx="237.9" cy="296.5" r="4.2"/><circle cx="250.0" cy="292.7" r="4.2"/><circle cx="210.6" cy="303.7" r="4.2"/><circle cx="218.9" cy="302.9" r="4.2"/><circle cx="225.2" cy="302.9" r="4.2"/><circle cx="222.7" cy="306.0" r="4.2"/><circle cx="194.1" cy="306.0" r="4.2"/><circle cx="196.0" cy="311.1" r="4.2"/><circle cx="219.5" cy="312.4" r="4.2"/><circle cx="229.7" cy="309.8" r="4.2"/><circle cx="234.8" cy="311.7" r="4.2"/><circle cx="232.2" cy="314.9" r="4.2"/><circle cx="246.2" cy="318.1" r="4.2"/><circle cx="247.5" cy="323.2" r="4.2"/><circle cx="197.9" cy="325.1" r="4.2"/><circle cx="209.1" cy="323.2" r="4.2"/><circle cx="218.9" cy="323.2" r="4.2"/><circle cx="226.5" cy="331.4" r="4.2"/><circle cx="235.4" cy="330.2" r="4.2"/><circle cx="243.7" cy="331.4" r="4.2"/><circle cx="199.2" cy="334.6" r="4.2"/><circle cx="210.0" cy="334.0" r="4.2"/><circle cx="213.8" cy="335.9" r="4.2"/><circle cx="192.9" cy="339.7" r="4.2"/><circle cx="208.1" cy="341.0" r="4.2"/><circle cx="219.5" cy="339.7" r="4.2"/><circle cx="227.1" cy="338.4" r="4.2"/><circle cx="236.0" cy="337.1" r="4.2"/><circle cx="243.7" cy="337.1" r="4.2"/><circle cx="229.7" cy="342.2" r="4.2"/><circle cx="197.9" cy="343.5" r="4.2"/><circle cx="201.7" cy="346.7" r="4.2"/><circle cx="241.7" cy="345.4" r="4.2"/><circle cx="248.7" cy="346.0" r="4.2"/><circle cx="185.9" cy="353.0" r="4.2"/><circle cx="190.3" cy="354.3" r="4.2"/><circle cx="208.7" cy="351.1" r="4.2"/><circle cx="217.0" cy="353.7" r="4.2"/><circle cx="229.0" cy="355.6" r="4.2"/><circle cx="247.5" cy="354.9" r="4.2"/><circle cx="206.2" cy="357.5" r="4.2"/><circle cx="294.4" cy="286.1" r="4.2"/><circle cx="265.2" cy="281.3" r="4.2"/><circle cx="253.8" cy="285.7" r="4.2"/><circle cx="259.5" cy="288.9" r="4.2"/><circle cx="271.6" cy="288.3" r="4.2"/><circle cx="277.9" cy="287.6" r="4.2"/><circle cx="281.7" cy="293.3" r="4.2"/><circle cx="267.1" cy="299.0" r="4.2"/><circle cx="274.1" cy="303.5" r="4.2"/><circle cx="281.7" cy="299.0" r="4.2"/><circle cx="253.8" cy="299.0" r="4.2"/><circle cx="255.7" cy="306.7" r="4.2"/><circle cx="257.6" cy="311.7" r="4.2"/><circle cx="252.5" cy="315.6" r="4.2"/><circle cx="272.2" cy="307.9" r="4.2"/><circle cx="279.8" cy="307.3" r="4.2"/><circle cx="290.0" cy="310.5" r="4.2"/><circle cx="274.8" cy="314.9" r="4.2"/><circle cx="281.1" cy="314.9" r="4.2"/><circle cx="297.0" cy="321.9" r="4.2"/><circle cx="272.2" cy="323.8" r="4.2"/><circle cx="278.6" cy="321.9" r="4.2"/><circle cx="285.6" cy="323.8" r="4.2"/><circle cx="267.1" cy="329.5" r="4.2"/><circle cx="253.8" cy="326.3" r="4.2"/><circle cx="252.5" cy="333.3" r="4.2"/><circle cx="284.3" cy="328.3" r="4.2"/><circle cx="298.3" cy="331.4" r="4.2"/><circle cx="297.0" cy="335.9" r="4.2"/><circle cx="276.7" cy="333.3" r="4.2"/><circle cx="286.8" cy="335.2" r="4.2"/><circle cx="278.6" cy="339.7" r="4.2"/><circle cx="264.0" cy="341.0" r="4.2"/><circle cx="257.6" cy="343.5" r="4.2"/><circle cx="274.1" cy="344.8" r="4.2"/><circle cx="286.8" cy="344.8" r="4.2"/><circle cx="252.5" cy="347.3" r="4.2"/><circle cx="262.7" cy="348.6" r="4.2"/><circle cx="271.0" cy="349.8" r="4.2"/><circle cx="290.6" cy="353.0" r="4.2"/><circle cx="274.8" cy="354.3" r="4.2"/><circle cx="253.8" cy="354.9" r="4.2"/><circle cx="281.1" cy="357.5" r="4.2"/><circle cx="301.4" cy="358.7" r="4.2"/><circle cx="267.8" cy="357.5" r="4.2"/><circle cx="185.9" cy="352.8" r="4.2"/><circle cx="190.3" cy="354.4" r="4.2"/><circle cx="208.1" cy="352.5" r="4.2"/><circle cx="217.0" cy="353.8" r="4.2"/><circle cx="229.0" cy="355.7" r="4.2"/><circle cx="247.5" cy="355.1" r="4.2"/><circle cx="206.2" cy="358.9" r="4.2"/><circle cx="208.1" cy="364.0" r="4.2"/><circle cx="196.0" cy="367.5" r="4.2"/><circle cx="214.4" cy="367.8" r="4.2"/><circle cx="220.8" cy="368.4" r="4.2"/><circle cx="233.5" cy="364.6" r="4.2"/><circle cx="240.5" cy="363.3" r="4.2"/><circle cx="247.5" cy="366.5" r="4.2"/><circle cx="211.9" cy="375.4" r="4.2"/><circle cx="217.6" cy="378.6" r="4.2"/><circle cx="227.1" cy="379.2" r="4.2"/><circle cx="234.8" cy="375.4" r="4.2"/><circle cx="242.4" cy="373.5" r="4.2"/><circle cx="248.7" cy="376.7" r="4.2"/><circle cx="204.3" cy="385.6" r="4.2"/><circle cx="210.6" cy="384.3" r="4.2"/><circle cx="223.3" cy="384.9" r="4.2"/><circle cx="231.0" cy="386.8" r="4.2"/><circle cx="241.1" cy="385.6" r="4.2"/><circle cx="247.5" cy="386.8" r="4.2"/><circle cx="206.8" cy="390.6" r="4.2"/><circle cx="206.2" cy="394.4" r="4.2"/><circle cx="222.7" cy="395.1" r="4.2"/><circle cx="210.6" cy="399.5" r="4.2"/><circle cx="236.0" cy="398.3" r="4.2"/><circle cx="243.7" cy="394.4" r="4.2"/><circle cx="247.5" cy="399.5" r="4.2"/><circle cx="217.6" cy="403.3" r="4.2"/><circle cx="199.2" cy="405.2" r="4.2"/><circle cx="201.7" cy="408.4" r="4.2"/><circle cx="210.6" cy="407.1" r="4.2"/><circle cx="218.3" cy="409.7" r="4.2"/><circle cx="236.0" cy="404.6" r="4.2"/><circle cx="243.7" cy="405.9" r="4.2"/><circle cx="236.7" cy="411.0" r="4.2"/><circle cx="246.2" cy="411.0" r="4.2"/><circle cx="213.2" cy="413.5" r="4.2"/><circle cx="220.2" cy="412.2" r="4.2"/><circle cx="239.2" cy="413.5" r="4.2"/><circle cx="174.8" cy="414.8" r="4.2"/><circle cx="291.3" cy="353.2" r="4.2"/><circle cx="301.4" cy="359.1" r="4.2"/><circle cx="304.6" cy="371.8" r="4.2"/><circle cx="288.7" cy="362.7" r="4.2"/><circle cx="293.2" cy="369.7" r="4.2"/><circle cx="281.7" cy="357.6" r="4.2"/><circle cx="304.6" cy="388.1" r="4.2"/><circle cx="309.0" cy="410.3" r="4.2"/><circle cx="302.1" cy="395.7" r="4.2"/><circle cx="302.7" cy="404.0" r="4.2"/><circle cx="297.0" cy="381.7" r="4.2"/><circle cx="479.5" cy="52.1" r="4.2"/><circle cx="425.6" cy="90.9" r="4.2"/><circle cx="455.8" cy="90.9" r="4.2"/><circle cx="403.5" cy="123.4" r="4.2"/><circle cx="443.7" cy="118.3" r="4.2"/><circle cx="438.1" cy="129.3" r="4.2"/><circle cx="421.8" cy="144.3" r="4.2"/><circle cx="464.0" cy="149.1" r="4.2"/><circle cx="455.8" cy="156.7" r="4.2"/><circle cx="421.8" cy="144.3" r="4.2"/><circle cx="464.0" cy="149.1" r="4.2"/><circle cx="455.8" cy="157.0" r="4.2"/><circle cx="423.6" cy="169.2" r="4.2"/><circle cx="395.9" cy="193.8" r="4.2"/><circle cx="477.2" cy="193.8" r="4.2"/><circle cx="479.2" cy="206.0" r="4.2"/><circle cx="402.0" cy="209.1" r="4.2"/><circle cx="418.5" cy="206.8" r="4.2"/><circle cx="406.3" cy="221.8" r="4.2"/><circle cx="410.6" cy="220.3" r="4.2"/><circle cx="415.0" cy="222.0" r="4.2"/><circle cx="400.2" cy="233.2" r="4.2"/><circle cx="418.3" cy="231.7" r="4.2"/><circle cx="459.4" cy="231.9" r="4.2"/><circle cx="389.8" cy="239.0" r="4.2"/><circle cx="430.4" cy="239.6" r="4.2"/><circle cx="427.1" cy="242.3" r="4.2"/><circle cx="409.9" cy="243.6" r="4.2"/><circle cx="416.5" cy="243.6" r="4.2"/><circle cx="424.1" cy="246.7" r="4.2"/><circle cx="454.3" cy="247.9" r="4.2"/><circle cx="432.7" cy="250.5" r="4.2"/><circle cx="439.8" cy="249.7" r="4.2"/><circle cx="438.8" cy="257.3" r="4.2"/><circle cx="453.8" cy="258.9" r="4.2"/><circle cx="458.1" cy="264.4" r="4.2"/><circle cx="446.2" cy="264.4" r="4.2"/><circle cx="435.8" cy="265.0" r="4.2"/><circle cx="451.3" cy="268.8" r="4.2"/><circle cx="427.9" cy="268.3" r="4.2"/><circle cx="428.9" cy="271.8" r="4.2"/><circle cx="393.1" cy="270.0" r="4.2"/><circle cx="392.3" cy="274.1" r="4.2"/><circle cx="433.5" cy="282.0" r="4.2"/><circle cx="390.3" cy="285.1" r="4.2"/><circle cx="391.6" cy="287.0" r="4.2"/><circle cx="433.5" cy="281.9" r="4.2"/><circle cx="450.0" cy="285.1" r="4.2"/><circle cx="380.4" cy="298.8" r="4.2"/><circle cx="398.6" cy="294.6" r="4.2"/><circle cx="408.1" cy="290.2" r="4.2"/><circle cx="412.5" cy="292.7" r="4.2"/><circle cx="415.7" cy="296.5" r="4.2"/><circle cx="427.1" cy="290.8" r="4.2"/><circle cx="446.2" cy="291.4" r="4.2"/><circle cx="441.7" cy="297.8" r="4.2"/><circle cx="401.1" cy="302.2" r="4.2"/><circle cx="391.0" cy="307.9" r="4.2"/><circle cx="397.3" cy="306.7" r="4.2"/><circle cx="410.6" cy="301.6" r="4.2"/><circle cx="412.5" cy="306.7" r="4.2"/><circle cx="417.0" cy="303.5" r="4.2"/><circle cx="425.9" cy="307.3" r="4.2"/><circle cx="432.2" cy="303.5" r="4.2"/><circle cx="437.3" cy="306.7" r="4.2"/><circle cx="447.5" cy="304.1" r="4.2"/><circle cx="443.7" cy="310.5" r="4.2"/><circle cx="418.9" cy="314.9" r="4.2"/><circle cx="390.3" cy="317.5" r="4.2"/><circle cx="417.6" cy="319.4" r="4.2"/><circle cx="393.5" cy="323.2" r="4.2"/><circle cx="407.2" cy="321.3" r="4.2"/><circle cx="429.7" cy="320.6" r="4.2"/><circle cx="436.0" cy="324.4" r="4.2"/><circle cx="443.7" cy="323.8" r="4.2"/><circle cx="431.0" cy="326.3" r="4.2"/><circle cx="450.0" cy="327.0" r="4.2"/><circle cx="383.6" cy="330.2" r="4.2"/><circle cx="415.7" cy="330.2" r="4.2"/><circle cx="411.3" cy="332.1" r="4.2"/><circle cx="392.2" cy="334.6" r="4.2"/><circle cx="401.1" cy="335.2" r="4.2"/><circle cx="413.2" cy="337.1" r="4.2"/><circle cx="429.0" cy="334.6" r="4.2"/><circle cx="438.6" cy="333.3" r="4.2"/><circle cx="442.4" cy="338.4" r="4.2"/><circle cx="394.1" cy="341.0" r="4.2"/><circle cx="401.7" cy="339.7" r="4.2"/><circle cx="380.8" cy="341.0" r="4.2"/><circle cx="418.9" cy="342.2" r="4.2"/><circle cx="410.6" cy="343.5" r="4.2"/><circle cx="382.7" cy="348.6" r="4.2"/><circle cx="386.5" cy="353.7" r="4.2"/><circle cx="399.2" cy="347.9" r="4.2"/><circle cx="406.8" cy="354.9" r="4.2"/><circle cx="398.6" cy="356.2" r="4.2"/><circle cx="422.1" cy="347.3" r="4.2"/><circle cx="429.7" cy="346.0" r="4.2"/><circle cx="437.3" cy="347.3" r="4.2"/><circle cx="443.7" cy="343.5" r="4.2"/><circle cx="418.3" cy="353.7" r="4.2"/><circle cx="425.9" cy="354.9" r="4.2"/><circle cx="436.0" cy="354.9" r="4.2"/><circle cx="444.9" cy="353.7" r="4.2"/><circle cx="391.6" cy="358.7" r="4.2"/><circle cx="452.5" cy="285.7" r="4.2"/><circle cx="471.3" cy="294.6" r="4.2"/><circle cx="453.8" cy="308.6" r="4.2"/><circle cx="462.7" cy="314.3" r="4.2"/><circle cx="471.0" cy="312.8" r="4.2"/><circle cx="450.0" cy="327.6" r="4.2"/><circle cx="451.3" cy="357.5" r="4.2"/><circle cx="451.3" cy="358.3" r="4.2"/><circle cx="459.5" cy="364.2" r="4.2"/><circle cx="450.6" cy="367.8" r="4.2"/><circle cx="452.5" cy="375.4" r="4.2"/><circle cx="454.8" cy="386.8" r="4.2"/><circle cx="448.7" cy="398.9" r="4.2"/><circle cx="447.6" cy="398.7" r="4.2"/><circle cx="442.5" cy="407.3" r="4.2"/><circle cx="161.7" cy="396.8" r="4.2"/><circle cx="276.8" cy="350.8" r="4.2"/><circle cx="286.3" cy="351.1" r="4.2"/><circle cx="272.9" cy="354.3" r="4.2"/><circle cx="276.6" cy="354.7" r="4.2"/><circle cx="281.4" cy="354.0" r="4.2"/><circle cx="286.7" cy="355.0" r="4.2"/><circle cx="257.9" cy="359.4" r="4.2"/><circle cx="268.9" cy="358.6" r="4.2"/><circle cx="273.0" cy="359.2" r="4.2"/><circle cx="277.2" cy="358.9" r="4.2"/><circle cx="282.3" cy="360.1" r="4.2"/><circle cx="285.9" cy="359.4" r="4.2"/><circle cx="289.4" cy="359.5" r="4.2"/><circle cx="257.9" cy="364.1" r="4.2"/><circle cx="271.5" cy="363.4" r="4.2"/><circle cx="277.1" cy="364.4" r="4.2"/><circle cx="282.3" cy="364.4" r="4.2"/><circle cx="285.5" cy="363.3" r="4.2"/><circle cx="290.2" cy="364.4" r="4.2"/><circle cx="250.2" cy="367.4" r="4.2"/><circle cx="253.3" cy="367.8" r="4.2"/><circle cx="258.7" cy="368.2" r="4.2"/><circle cx="272.9" cy="366.9" r="4.2"/><circle cx="278.0" cy="368.7" r="4.2"/><circle cx="282.4" cy="368.7" r="4.2"/><circle cx="285.7" cy="367.8" r="4.2"/><circle cx="289.5" cy="368.3" r="4.2"/><circle cx="263.8" cy="371.7" r="4.2"/><circle cx="267.4" cy="372.1" r="4.2"/><circle cx="272.2" cy="371.6" r="4.2"/><circle cx="277.8" cy="373.7" r="4.2"/><circle cx="281.4" cy="372.5" r="4.2"/><circle cx="285.0" cy="371.5" r="4.2"/><circle cx="290.1" cy="371.9" r="4.2"/><circle cx="259.9" cy="377.5" r="4.2"/><circle cx="262.9" cy="376.7" r="4.2"/><circle cx="267.2" cy="377.7" r="4.2"/><circle cx="272.6" cy="377.7" r="4.2"/><circle cx="276.6" cy="376.3" r="4.2"/><circle cx="286.8" cy="377.7" r="4.2"/><circle cx="291.3" cy="377.6" r="4.2"/><circle cx="294.3" cy="377.0" r="4.2"/><circle cx="255.6" cy="381.4" r="4.2"/><circle cx="260.0" cy="382.7" r="4.2"/><circle cx="264.6" cy="381.2" r="4.2"/><circle cx="267.3" cy="380.8" r="4.2"/><circle cx="271.8" cy="380.8" r="4.2"/><circle cx="286.4" cy="382.2" r="4.2"/><circle cx="289.5" cy="381.9" r="4.2"/><circle cx="296.0" cy="382.2" r="4.2"/><circle cx="255.6" cy="385.8" r="4.2"/><circle cx="258.8" cy="387.1" r="4.2"/><circle cx="264.0" cy="385.2" r="4.2"/><circle cx="267.1" cy="385.2" r="4.2"/><circle cx="273.5" cy="386.7" r="4.2"/><circle cx="276.2" cy="386.8" r="4.2"/><circle cx="285.6" cy="386.1" r="4.2"/><circle cx="289.6" cy="384.8" r="4.2"/><circle cx="296.1" cy="386.4" r="4.2"/><circle cx="299.6" cy="387.0" r="4.2"/><circle cx="250.8" cy="389.8" r="4.2"/><circle cx="253.9" cy="390.0" r="4.2"/><circle cx="258.4" cy="390.7" r="4.2"/><circle cx="262.9" cy="390.3" r="4.2"/><circle cx="267.1" cy="391.5" r="4.2"/><circle cx="272.1" cy="390.4" r="4.2"/><circle cx="277.2" cy="391.5" r="4.2"/><circle cx="281.3" cy="391.5" r="4.2"/><circle cx="286.0" cy="390.6" r="4.2"/><circle cx="290.6" cy="389.3" r="4.2"/><circle cx="294.9" cy="389.7" r="4.2"/><circle cx="298.3" cy="391.2" r="4.2"/><circle cx="250.5" cy="395.1" r="4.2"/><circle cx="254.1" cy="395.0" r="4.2"/><circle cx="259.1" cy="395.7" r="4.2"/><circle cx="262.6" cy="395.1" r="4.2"/><circle cx="267.4" cy="394.5" r="4.2"/><circle cx="273.2" cy="395.0" r="4.2"/><circle cx="277.1" cy="395.6" r="4.2"/><circle cx="282.5" cy="394.9" r="4.2"/><circle cx="294.9" cy="395.1" r="4.2"/><circle cx="299.4" cy="396.1" r="4.2"/><circle cx="259.8" cy="398.6" r="4.2"/><circle cx="262.6" cy="399.4" r="4.2"/><circle cx="267.0" cy="398.9" r="4.2"/><circle cx="271.5" cy="399.9" r="4.2"/><circle cx="277.7" cy="400.5" r="4.2"/><circle cx="280.7" cy="400.0" r="4.2"/><circle cx="299.3" cy="399.5" r="4.2"/><circle cx="258.3" cy="403.6" r="4.2"/><circle cx="264.0" cy="402.8" r="4.2"/><circle cx="268.1" cy="403.9" r="4.2"/><circle cx="271.3" cy="403.6" r="4.2"/><circle cx="277.3" cy="404.0" r="4.2"/><circle cx="280.5" cy="405.2" r="4.2"/><circle cx="286.7" cy="405.1" r="4.2"/><circle cx="293.9" cy="404.7" r="4.2"/><circle cx="298.9" cy="403.1" r="4.2"/><circle cx="253.7" cy="409.5" r="4.2"/><circle cx="259.2" cy="409.0" r="4.2"/><circle cx="262.5" cy="407.4" r="4.2"/><circle cx="268.5" cy="408.3" r="4.2"/><circle cx="271.5" cy="409.6" r="4.2"/><circle cx="277.3" cy="409.2" r="4.2"/><circle cx="280.5" cy="409.4" r="4.2"/><circle cx="285.0" cy="409.4" r="4.2"/><circle cx="290.4" cy="408.1" r="4.2"/><circle cx="295.1" cy="409.5" r="4.2"/><circle cx="298.9" cy="407.6" r="4.2"/><circle cx="304.1" cy="407.9" r="4.2"/><circle cx="253.4" cy="412.3" r="4.2"/><circle cx="258.5" cy="412.5" r="4.2"/><circle cx="264.1" cy="412.5" r="4.2"/><circle cx="268.0" cy="412.2" r="4.2"/><circle cx="272.1" cy="411.8" r="4.2"/><circle cx="276.4" cy="411.8" r="4.2"/><circle cx="282.1" cy="413.1" r="4.2"/><circle cx="285.3" cy="412.9" r="4.2"/><circle cx="291.5" cy="412.1" r="4.2"/><circle cx="295.8" cy="412.8" r="4.2"/><circle cx="299.5" cy="413.8" r="4.2"/><circle cx="385.8" cy="350.3" r="4.2"/><circle cx="397.8" cy="350.6" r="4.2"/><circle cx="406.9" cy="350.8" r="4.2"/><circle cx="413.2" cy="350.4" r="4.2"/><circle cx="436.0" cy="350.1" r="4.2"/><circle cx="438.7" cy="351.1" r="4.2"/><circle cx="384.2" cy="353.9" r="4.2"/><circle cx="388.9" cy="354.3" r="4.2"/><circle cx="393.2" cy="353.4" r="4.2"/><circle cx="398.4" cy="353.9" r="4.2"/><circle cx="403.6" cy="354.6" r="4.2"/><circle cx="408.5" cy="354.9" r="4.2"/><circle cx="412.9" cy="355.4" r="4.2"/><circle cx="416.6" cy="354.1" r="4.2"/><circle cx="422.5" cy="353.7" r="4.2"/><circle cx="435.8" cy="354.8" r="4.2"/><circle cx="439.9" cy="355.2" r="4.2"/><circle cx="443.0" cy="354.6" r="4.2"/><circle cx="448.4" cy="355.3" r="4.2"/><circle cx="397.9" cy="359.8" r="4.2"/><circle cx="403.5" cy="359.3" r="4.2"/><circle cx="408.2" cy="359.4" r="4.2"/><circle cx="412.3" cy="357.8" r="4.2"/><circle cx="417.6" cy="359.6" r="4.2"/><circle cx="421.4" cy="359.1" r="4.2"/><circle cx="426.2" cy="358.0" r="4.2"/><circle cx="439.9" cy="358.3" r="4.2"/><circle cx="444.4" cy="360.1" r="4.2"/><circle cx="448.3" cy="358.7" r="4.2"/><circle cx="394.9" cy="363.0" r="4.2"/><circle cx="399.0" cy="362.3" r="4.2"/><circle cx="402.3" cy="362.9" r="4.2"/><circle cx="408.3" cy="364.0" r="4.2"/><circle cx="412.8" cy="363.0" r="4.2"/><circle cx="416.9" cy="363.4" r="4.2"/><circle cx="421.3" cy="362.6" r="4.2"/><circle cx="426.8" cy="362.8" r="4.2"/><circle cx="431.5" cy="364.5" r="4.2"/><circle cx="433.7" cy="363.4" r="4.2"/><circle cx="440.1" cy="364.6" r="4.2"/><circle cx="443.7" cy="362.9" r="4.2"/><circle cx="386.4" cy="367.1" r="4.2"/><circle cx="390.6" cy="368.0" r="4.2"/><circle cx="395.3" cy="368.5" r="4.2"/><circle cx="398.2" cy="369.0" r="4.2"/><circle cx="403.3" cy="366.9" r="4.2"/><circle cx="406.7" cy="368.0" r="4.2"/><circle cx="412.2" cy="367.5" r="4.2"/><circle cx="416.0" cy="367.6" r="4.2"/><circle cx="420.9" cy="368.8" r="4.2"/><circle cx="424.7" cy="368.6" r="4.2"/><circle cx="431.2" cy="367.1" r="4.2"/><circle cx="435.9" cy="368.5" r="4.2"/><circle cx="440.3" cy="367.5" r="4.2"/><circle cx="443.5" cy="367.7" r="4.2"/><circle cx="380.3" cy="371.4" r="4.2"/><circle cx="384.4" cy="373.3" r="4.2"/><circle cx="389.3" cy="373.5" r="4.2"/><circle cx="393.7" cy="371.9" r="4.2"/><circle cx="398.9" cy="371.8" r="4.2"/><circle cx="403.0" cy="373.6" r="4.2"/><circle cx="408.8" cy="373.2" r="4.2"/><circle cx="412.7" cy="373.5" r="4.2"/><circle cx="417.9" cy="372.6" r="4.2"/><circle cx="421.9" cy="371.4" r="4.2"/><circle cx="426.4" cy="372.4" r="4.2"/><circle cx="431.0" cy="372.8" r="4.2"/><circle cx="434.3" cy="371.4" r="4.2"/><circle cx="440.4" cy="371.6" r="4.2"/><circle cx="443.8" cy="372.1" r="4.2"/><circle cx="447.9" cy="373.1" r="4.2"/><circle cx="381.2" cy="376.5" r="4.2"/><circle cx="385.5" cy="376.7" r="4.2"/><circle cx="389.1" cy="376.2" r="4.2"/><circle cx="393.6" cy="378.0" r="4.2"/><circle cx="398.8" cy="376.3" r="4.2"/><circle cx="404.3" cy="378.2" r="4.2"/><circle cx="407.7" cy="376.1" r="4.2"/><circle cx="411.6" cy="376.0" r="4.2"/><circle cx="416.5" cy="376.0" r="4.2"/><circle cx="420.7" cy="376.4" r="4.2"/><circle cx="426.0" cy="377.9" r="4.2"/><circle cx="430.9" cy="376.8" r="4.2"/><circle cx="434.6" cy="377.1" r="4.2"/><circle cx="439.1" cy="376.6" r="4.2"/><circle cx="442.8" cy="376.5" r="4.2"/><circle cx="449.5" cy="376.1" r="4.2"/><circle cx="381.7" cy="380.8" r="4.2"/><circle cx="384.8" cy="380.9" r="4.2"/><circle cx="389.6" cy="381.4" r="4.2"/><circle cx="408.8" cy="381.4" r="4.2"/><circle cx="412.6" cy="380.3" r="4.2"/><circle cx="416.6" cy="382.5" r="4.2"/><circle cx="422.1" cy="382.4" r="4.2"/><circle cx="427.0" cy="380.9" r="4.2"/><circle cx="429.4" cy="380.7" r="4.2"/><circle cx="434.9" cy="381.9" r="4.2"/><circle cx="440.4" cy="382.0" r="4.2"/><circle cx="380.2" cy="387.0" r="4.2"/><circle cx="385.7" cy="385.5" r="4.2"/><circle cx="389.0" cy="385.4" r="4.2"/><circle cx="394.7" cy="386.5" r="4.2"/><circle cx="403.4" cy="386.2" r="4.2"/><circle cx="407.6" cy="385.3" r="4.2"/><circle cx="412.6" cy="384.8" r="4.2"/><circle cx="416.4" cy="385.9" r="4.2"/><circle cx="422.5" cy="386.3" r="4.2"/><circle cx="426.8" cy="385.9" r="4.2"/><circle cx="429.7" cy="385.4" r="4.2"/><circle cx="436.0" cy="386.5" r="4.2"/><circle cx="438.9" cy="384.9" r="4.2"/><circle cx="380.2" cy="389.4" r="4.2"/><circle cx="385.0" cy="390.3" r="4.2"/><circle cx="390.3" cy="389.8" r="4.2"/><circle cx="395.1" cy="391.1" r="4.2"/><circle cx="398.9" cy="389.8" r="4.2"/><circle cx="404.5" cy="390.0" r="4.2"/><circle cx="408.6" cy="389.9" r="4.2"/><circle cx="411.7" cy="391.1" r="4.2"/><circle cx="416.4" cy="391.6" r="4.2"/><circle cx="421.3" cy="389.7" r="4.2"/><circle cx="425.2" cy="390.3" r="4.2"/><circle cx="430.7" cy="391.6" r="4.2"/><circle cx="434.0" cy="390.2" r="4.2"/><circle cx="438.7" cy="391.6" r="4.2"/><circle cx="381.4" cy="396.2" r="4.2"/><circle cx="386.4" cy="394.6" r="4.2"/><circle cx="389.1" cy="396.0" r="4.2"/><circle cx="394.9" cy="393.9" r="4.2"/><circle cx="399.2" cy="394.7" r="4.2"/><circle cx="403.0" cy="394.6" r="4.2"/><circle cx="407.1" cy="393.8" r="4.2"/><circle cx="411.8" cy="394.6" r="4.2"/><circle cx="417.9" cy="394.1" r="4.2"/><circle cx="422.5" cy="394.3" r="4.2"/><circle cx="425.5" cy="395.8" r="4.2"/><circle cx="431.1" cy="394.8" r="4.2"/><circle cx="433.8" cy="394.9" r="4.2"/><circle cx="439.0" cy="396.0" r="4.2"/><circle cx="381.5" cy="398.4" r="4.2"/><circle cx="384.2" cy="398.5" r="4.2"/><circle cx="390.9" cy="398.9" r="4.2"/><circle cx="394.9" cy="400.5" r="4.2"/><circle cx="398.5" cy="399.0" r="4.2"/><circle cx="404.4" cy="399.8" r="4.2"/><circle cx="407.3" cy="400.0" r="4.2"/><circle cx="411.9" cy="399.0" r="4.2"/><circle cx="415.7" cy="400.1" r="4.2"/><circle cx="422.3" cy="399.8" r="4.2"/><circle cx="426.9" cy="398.4" r="4.2"/><circle cx="429.7" cy="399.4" r="4.2"/><circle cx="435.9" cy="400.6" r="4.2"/><circle cx="439.1" cy="398.9" r="4.2"/><circle cx="381.6" cy="404.7" r="4.2"/><circle cx="385.6" cy="403.6" r="4.2"/><circle cx="389.4" cy="403.7" r="4.2"/><circle cx="395.0" cy="403.0" r="4.2"/><circle cx="398.1" cy="404.6" r="4.2"/><circle cx="402.7" cy="403.0" r="4.2"/><circle cx="406.7" cy="404.1" r="4.2"/><circle cx="411.9" cy="405.2" r="4.2"/><circle cx="417.8" cy="405.2" r="4.2"/><circle cx="420.8" cy="403.0" r="4.2"/><circle cx="424.9" cy="404.0" r="4.2"/><circle cx="430.9" cy="403.9" r="4.2"/><circle cx="434.2" cy="403.8" r="4.2"/><circle cx="439.6" cy="404.4" r="4.2"/><circle cx="381.0" cy="408.2" r="4.2"/><circle cx="385.9" cy="407.8" r="4.2"/><circle cx="389.2" cy="407.9" r="4.2"/><circle cx="393.5" cy="409.4" r="4.2"/><circle cx="399.0" cy="408.1" r="4.2"/><circle cx="403.1" cy="409.7" r="4.2"/><circle cx="407.9" cy="407.9" r="4.2"/><circle cx="413.1" cy="408.9" r="4.2"/><circle cx="418.0" cy="407.5" r="4.2"/><circle cx="421.3" cy="409.3" r="4.2"/><circle cx="426.7" cy="409.5" r="4.2"/><circle cx="429.2" cy="408.0" r="4.2"/><circle cx="433.9" cy="407.8" r="4.2"/><circle cx="381.9" cy="412.1" r="4.2"/><circle cx="385.6" cy="413.3" r="4.2"/><circle cx="389.2" cy="412.7" r="4.2"/><circle cx="393.5" cy="412.3" r="4.2"/><circle cx="398.3" cy="413.2" r="4.2"/><circle cx="403.7" cy="412.3" r="4.2"/><circle cx="406.7" cy="412.6" r="4.2"/><circle cx="412.8" cy="412.2" r="4.2"/><circle cx="416.4" cy="412.3" r="4.2"/><circle cx="422.1" cy="413.1" r="4.2"/><circle cx="424.8" cy="412.0" r="4.2"/><circle cx="430.1" cy="413.1" r="4.2"/><circle cx="435.2" cy="412.0" r="4.2"/><circle cx="447.5" cy="398.9" r="4.2"/><circle cx="444.9" cy="384.3" r="4.2"/><circle cx="375.7" cy="369.0" r="4.2"/><circle cx="375.1" cy="403.3" r="4.2"/><circle cx="441.1" cy="408.4" r="4.2"/><circle cx="253.2" cy="292.1" r="4.2"/><circle cx="258.3" cy="294.6" r="4.2"/><circle cx="262.1" cy="292.1" r="4.2"/><circle cx="256.3" cy="302.9" r="4.2"/><circle cx="277.3" cy="311.1" r="4.2"/><circle cx="279.2" cy="302.9" r="4.2"/><circle cx="279.2" cy="328.3" r="4.2"/><circle cx="281.7" cy="332.1" r="4.2"/><circle cx="275.4" cy="328.3" r="4.2"/><circle cx="257.6" cy="283.2" r="4.2"/><circle cx="262.7" cy="286.3" r="4.2"/><circle cx="233.5" cy="381.7" r="4.2"/><circle cx="238.6" cy="390.6" r="4.2"/><circle cx="233.5" cy="393.2" r="4.2"/><circle cx="241.1" cy="399.5" r="4.2"/><circle cx="249.4" cy="393.2" r="4.2"/><circle cx="241.1" cy="403.3" r="4.2"/><circle cx="248.7" cy="405.9" r="4.2"/><circle cx="233.5" cy="408.4" r="4.2"/><circle cx="242.4" cy="411.0" r="4.2"/><circle cx="205.6" cy="406.5" r="4.2"/><circle cx="206.8" cy="411.0" r="4.2"/><circle cx="238.6" cy="380.5" r="4.2"/><circle cx="229.7" cy="381.7" r="4.2"/><circle cx="433.5" cy="330.8" r="4.2"/><circle cx="427.1" cy="339.7" r="4.2"/><circle cx="436.0" cy="338.4" r="4.2"/><circle cx="432.2" cy="335.9" r="4.2"/><circle cx="441.1" cy="330.8" r="4.2"/><circle cx="407.5" cy="295.9" r="4.2"/><circle cx="441.1" cy="348.6" r="4.2"/><circle cx="431.0" cy="351.1" r="4.2"/><circle cx="378.6" cy="415.1" r="4.2"/><circle cx="382.7" cy="414.9" r="4.2"/><circle cx="387.7" cy="415.8" r="4.2"/><circle cx="390.7" cy="414.5" r="4.2"/><circle cx="395.5" cy="414.5" r="4.2"/><circle cx="398.0" cy="415.6" r="4.2"/><circle cx="402.8" cy="415.5" r="4.2"/><circle cx="406.8" cy="415.6" r="4.2"/><circle cx="410.9" cy="414.5" r="4.2"/><circle cx="414.0" cy="415.1" r="4.2"/><circle cx="419.3" cy="415.7" r="4.2"/><circle cx="422.2" cy="415.2" r="4.2"/><circle cx="426.7" cy="415.0" r="4.2"/><circle cx="430.3" cy="414.7" r="4.2"/><circle cx="435.0" cy="415.7" r="4.2"/><circle cx="438.2" cy="415.0" r="4.2"/><circle cx="250.6" cy="416.0" r="4.2"/><circle cx="253.4" cy="414.7" r="4.2"/><circle cx="258.9" cy="416.1" r="4.2"/><circle cx="262.0" cy="414.6" r="4.2"/><circle cx="266.9" cy="415.1" r="4.2"/><circle cx="270.8" cy="415.5" r="4.2"/><circle cx="274.6" cy="414.8" r="4.2"/><circle cx="278.6" cy="414.9" r="4.2"/><circle cx="281.8" cy="415.9" r="4.2"/><circle cx="284.7" cy="412.0" r="4.2"/><circle cx="287.4" cy="412.3" r="4.2"/><circle cx="292.0" cy="412.3" r="4.2"/><circle cx="295.2" cy="412.1" r="4.2"/></g>
<g fill="#000"><path d="M164.9 21L170.3 30.5H159.5Z"/><path d="M204.8 21L210.2 30.5H199.4Z"/><path d="M455.7 21L461.1 30.5H450.3Z"/><path d="M460.3 21L465.7 30.5H454.9Z"/><path d="M464.9 21L470.3 30.5H459.5Z"/><path d="M488.3 21L493.7 30.5H482.9Z"/></g>
<g fill="none" stroke="#000"><path d="M51.4 0V580.7" stroke-width="1.8"/><path d="M50.5 579.75H629.5" stroke-width="1.9"/><path d="M50.5 0.5H629.5" stroke-width="1.7" stroke="#777"/><path d="M628.9 0V580" stroke-width="1.25" stroke="#333"/></g>
<path d="M48 553.5H51M48 448.2H51M48 343.0H51M48 237.8H51M48 132.5H51M48 27.2H51M152.7 580V583.3M190.2 580V583.3M227.7 580V583.3M265.2 580V583.3M302.7 580V583.3M340.2 580V583.3M377.7 580V583.3M415.2 580V583.3M452.7 580V583.3M490.2 580V583.3M527.7 580V583.3" stroke="#000" stroke-width="1.4" fill="none"/>
<g font-size="19" stroke="#000" stroke-width="0.3"><text x="43.6" y="560.3" text-anchor="end">0</text><text x="43.6" y="455.1" text-anchor="end">1</text><text x="43.6" y="349.8" text-anchor="end">2</text><text x="43.6" y="244.6" text-anchor="end">3</text><text x="43.6" y="139.3" text-anchor="end">4</text><text x="43.6" y="34.0" text-anchor="end">5</text><text x="152.1" y="599.8" text-anchor="middle">−10</text><text x="189.6" y="599.8" text-anchor="middle">−8</text><text x="227.1" y="599.8" text-anchor="middle">−6</text><text x="264.6" y="599.8" text-anchor="middle">−4</text><text x="302.1" y="599.8" text-anchor="middle">−2</text><text x="339.6" y="599.8" text-anchor="middle">0</text><text x="377.1" y="599.8" text-anchor="middle">2</text><text x="414.6" y="599.8" text-anchor="middle">4</text><text x="452.1" y="599.8" text-anchor="middle">6</text><text x="489.6" y="599.8" text-anchor="middle">8</text><text x="527.1" y="599.8" text-anchor="middle">10</text></g>
<g font-size="21.5" stroke="#000" stroke-width="0.3"><text x="262.6" y="635.2" textLength="161.5" lengthAdjust="spacingAndGlyphs">log<tspan font-size="16" dy="4.8">2</tspan><tspan dy="-4.8"> fold change</tspan></text>
<text x="262.4" y="667" textLength="161" lengthAdjust="spacingAndGlyphs">(DSW / Surface)</text>
<text transform="translate(19,408) rotate(-90)" font-size="23" textLength="235" lengthAdjust="spacingAndGlyphs">−log(adjusted <tspan font-style="italic">p</tspan>−value)</text></g>
<g stroke="#000" stroke-width="1.7" fill="none"><path d="M171 78L255.6 116.8"/><path d="M160.2 321L262 339.7"/><path d="M139.1 351L232 361"/><path d="M138 386.5L243 370.5"/><path d="M138.1 436.8L222 387.5"/><path d="M470 29.2L523.5 50.8"/><path d="M420 300L483 337"/><path d="M455.2 386.5L522.5 394.1"/></g>
<g font-size="18" stroke="#000" stroke-width="0.35"><text x="119.0" y="84.4" textLength="42.0" lengthAdjust="spacingAndGlyphs">FBA1</text><text x="114.4" y="327.6" textLength="38.1" lengthAdjust="spacingAndGlyphs">RHO</text><text x="90.8" y="358.7" textLength="40.2" lengthAdjust="spacingAndGlyphs">NOD</text><text x="82.7" y="394.9" textLength="45.7" lengthAdjust="spacingAndGlyphs">SOD1</text><text x="82.7" y="448.1" textLength="44.4" lengthAdjust="spacingAndGlyphs">SDH1</text><text x="531.4" y="58.2" textLength="25.9" lengthAdjust="spacingAndGlyphs">ICL</text><text x="490.8" y="344.1" textLength="29.2" lengthAdjust="spacingAndGlyphs">NiR</text><text x="530.7" y="401.7" textLength="23.6" lengthAdjust="spacingAndGlyphs">NR</text></g>
</svg>
</body></html>
